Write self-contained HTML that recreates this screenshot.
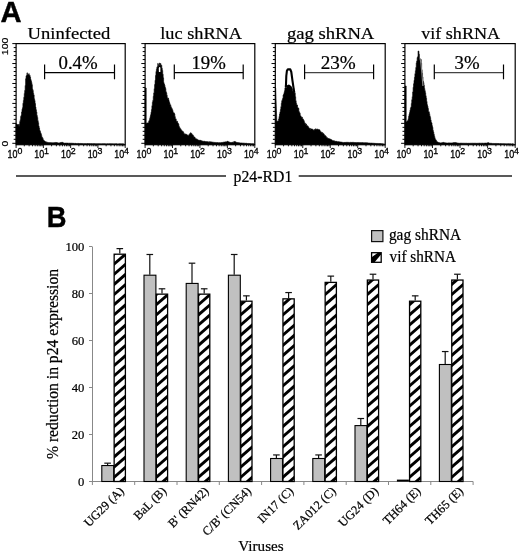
<!DOCTYPE html>
<html><head><meta charset="utf-8"><title>Figure</title>
<style>
html,body{margin:0;padding:0;background:#fff;}
body{width:520px;height:554px;overflow:hidden;font-family:"Liberation Serif",serif;}
svg{display:block;will-change:transform;}
.ser{font-family:"Liberation Serif",serif;stroke:#000;stroke-width:0.22px;}
.san{font-family:"Liberation Sans",sans-serif;}
</style></head><body>
<svg width="520" height="554" viewBox="0 0 520 554">
<defs>
</defs>
<rect width="520" height="554" fill="#fff"/>
<text x="0.60" y="21.5" font-size="29.6" class="san" font-weight="bold" fill="#000" textLength="21.06" lengthAdjust="spacingAndGlyphs" stroke="#000" stroke-width="0.4">A</text>
<rect x="16.1" y="43.6" width="109.1" height="101.1" fill="none" stroke="#000" stroke-width="1.2"/>
<line x1="12.3" y1="143.30" x2="16.1" y2="143.30" stroke="#000" stroke-width="1"/>
<line x1="13.700000000000001" y1="139.31" x2="16.1" y2="139.31" stroke="#000" stroke-width="1"/>
<line x1="13.700000000000001" y1="135.32" x2="16.1" y2="135.32" stroke="#000" stroke-width="1"/>
<line x1="13.700000000000001" y1="131.34" x2="16.1" y2="131.34" stroke="#000" stroke-width="1"/>
<line x1="13.700000000000001" y1="127.35" x2="16.1" y2="127.35" stroke="#000" stroke-width="1"/>
<line x1="12.3" y1="123.36" x2="16.1" y2="123.36" stroke="#000" stroke-width="1"/>
<line x1="13.700000000000001" y1="119.37" x2="16.1" y2="119.37" stroke="#000" stroke-width="1"/>
<line x1="13.700000000000001" y1="115.38" x2="16.1" y2="115.38" stroke="#000" stroke-width="1"/>
<line x1="13.700000000000001" y1="111.40" x2="16.1" y2="111.40" stroke="#000" stroke-width="1"/>
<line x1="13.700000000000001" y1="107.41" x2="16.1" y2="107.41" stroke="#000" stroke-width="1"/>
<line x1="12.3" y1="103.42" x2="16.1" y2="103.42" stroke="#000" stroke-width="1"/>
<line x1="13.700000000000001" y1="99.43" x2="16.1" y2="99.43" stroke="#000" stroke-width="1"/>
<line x1="13.700000000000001" y1="95.44" x2="16.1" y2="95.44" stroke="#000" stroke-width="1"/>
<line x1="13.700000000000001" y1="91.46" x2="16.1" y2="91.46" stroke="#000" stroke-width="1"/>
<line x1="13.700000000000001" y1="87.47" x2="16.1" y2="87.47" stroke="#000" stroke-width="1"/>
<line x1="12.3" y1="83.48" x2="16.1" y2="83.48" stroke="#000" stroke-width="1"/>
<line x1="13.700000000000001" y1="79.49" x2="16.1" y2="79.49" stroke="#000" stroke-width="1"/>
<line x1="13.700000000000001" y1="75.50" x2="16.1" y2="75.50" stroke="#000" stroke-width="1"/>
<line x1="13.700000000000001" y1="71.52" x2="16.1" y2="71.52" stroke="#000" stroke-width="1"/>
<line x1="13.700000000000001" y1="67.53" x2="16.1" y2="67.53" stroke="#000" stroke-width="1"/>
<line x1="12.3" y1="63.54" x2="16.1" y2="63.54" stroke="#000" stroke-width="1"/>
<line x1="13.700000000000001" y1="59.55" x2="16.1" y2="59.55" stroke="#000" stroke-width="1"/>
<line x1="13.700000000000001" y1="55.56" x2="16.1" y2="55.56" stroke="#000" stroke-width="1"/>
<line x1="13.700000000000001" y1="51.58" x2="16.1" y2="51.58" stroke="#000" stroke-width="1"/>
<line x1="13.700000000000001" y1="47.59" x2="16.1" y2="47.59" stroke="#000" stroke-width="1"/>
<line x1="12.3" y1="43.60" x2="16.1" y2="43.60" stroke="#000" stroke-width="1"/>
<line x1="16.10" y1="144.7" x2="16.10" y2="148.0" stroke="#000" stroke-width="0.9"/>
<line x1="24.31" y1="144.7" x2="24.31" y2="146.29999999999998" stroke="#000" stroke-width="0.9"/>
<line x1="29.11" y1="144.7" x2="29.11" y2="146.29999999999998" stroke="#000" stroke-width="0.9"/>
<line x1="32.52" y1="144.7" x2="32.52" y2="146.29999999999998" stroke="#000" stroke-width="0.9"/>
<line x1="35.16" y1="144.7" x2="35.16" y2="146.29999999999998" stroke="#000" stroke-width="0.9"/>
<line x1="37.32" y1="144.7" x2="37.32" y2="146.29999999999998" stroke="#000" stroke-width="0.9"/>
<line x1="39.15" y1="144.7" x2="39.15" y2="146.29999999999998" stroke="#000" stroke-width="0.9"/>
<line x1="40.73" y1="144.7" x2="40.73" y2="146.29999999999998" stroke="#000" stroke-width="0.9"/>
<line x1="42.13" y1="144.7" x2="42.13" y2="146.29999999999998" stroke="#000" stroke-width="0.9"/>
<line x1="43.38" y1="144.7" x2="43.38" y2="148.0" stroke="#000" stroke-width="0.9"/>
<line x1="51.59" y1="144.7" x2="51.59" y2="146.29999999999998" stroke="#000" stroke-width="0.9"/>
<line x1="56.39" y1="144.7" x2="56.39" y2="146.29999999999998" stroke="#000" stroke-width="0.9"/>
<line x1="59.80" y1="144.7" x2="59.80" y2="146.29999999999998" stroke="#000" stroke-width="0.9"/>
<line x1="62.44" y1="144.7" x2="62.44" y2="146.29999999999998" stroke="#000" stroke-width="0.9"/>
<line x1="64.60" y1="144.7" x2="64.60" y2="146.29999999999998" stroke="#000" stroke-width="0.9"/>
<line x1="66.43" y1="144.7" x2="66.43" y2="146.29999999999998" stroke="#000" stroke-width="0.9"/>
<line x1="68.01" y1="144.7" x2="68.01" y2="146.29999999999998" stroke="#000" stroke-width="0.9"/>
<line x1="69.40" y1="144.7" x2="69.40" y2="146.29999999999998" stroke="#000" stroke-width="0.9"/>
<line x1="70.65" y1="144.7" x2="70.65" y2="148.0" stroke="#000" stroke-width="0.9"/>
<line x1="78.86" y1="144.7" x2="78.86" y2="146.29999999999998" stroke="#000" stroke-width="0.9"/>
<line x1="83.66" y1="144.7" x2="83.66" y2="146.29999999999998" stroke="#000" stroke-width="0.9"/>
<line x1="87.07" y1="144.7" x2="87.07" y2="146.29999999999998" stroke="#000" stroke-width="0.9"/>
<line x1="89.71" y1="144.7" x2="89.71" y2="146.29999999999998" stroke="#000" stroke-width="0.9"/>
<line x1="91.87" y1="144.7" x2="91.87" y2="146.29999999999998" stroke="#000" stroke-width="0.9"/>
<line x1="93.70" y1="144.7" x2="93.70" y2="146.29999999999998" stroke="#000" stroke-width="0.9"/>
<line x1="95.28" y1="144.7" x2="95.28" y2="146.29999999999998" stroke="#000" stroke-width="0.9"/>
<line x1="96.68" y1="144.7" x2="96.68" y2="146.29999999999998" stroke="#000" stroke-width="0.9"/>
<line x1="97.92" y1="144.7" x2="97.92" y2="148.0" stroke="#000" stroke-width="0.9"/>
<line x1="106.14" y1="144.7" x2="106.14" y2="146.29999999999998" stroke="#000" stroke-width="0.9"/>
<line x1="110.94" y1="144.7" x2="110.94" y2="146.29999999999998" stroke="#000" stroke-width="0.9"/>
<line x1="114.35" y1="144.7" x2="114.35" y2="146.29999999999998" stroke="#000" stroke-width="0.9"/>
<line x1="116.99" y1="144.7" x2="116.99" y2="146.29999999999998" stroke="#000" stroke-width="0.9"/>
<line x1="119.15" y1="144.7" x2="119.15" y2="146.29999999999998" stroke="#000" stroke-width="0.9"/>
<line x1="120.98" y1="144.7" x2="120.98" y2="146.29999999999998" stroke="#000" stroke-width="0.9"/>
<line x1="122.56" y1="144.7" x2="122.56" y2="146.29999999999998" stroke="#000" stroke-width="0.9"/>
<line x1="123.95" y1="144.7" x2="123.95" y2="146.29999999999998" stroke="#000" stroke-width="0.9"/>
<line x1="125.2" y1="144.7" x2="125.2" y2="148.0" stroke="#000" stroke-width="0.9"/>
<polygon points="16,144.3 16,123.786 17.5,124.47 17.95,124.47 17.95,124.43 18.4,124.43 18.4,124.55 18.85,124.55 18.85,126.23 19.3,126.23 19.3,124.22 19.75,124.22 19.75,121.61 20.2,121.61 20.2,119.67 20.65,119.67 20.65,116.51 21.1,116.51 21.1,115.29 21.55,115.29 21.55,111.96 22.0,111.96 22.0,109.18 22.45,109.18 22.45,107.64 22.9,107.64 22.9,103.3 23.35,103.3 23.35,100.42 23.8,100.42 23.8,97.33 24.25,97.33 24.25,93.38 24.7,93.38 24.7,90.54 25.15,90.54 25.15,85.49 25.6,85.49 25.6,78.75 26.05,78.75 26.05,75.84 26.5,75.84 26.5,75.56 26.95,75.56 26.95,72.86 27.4,72.86 27.4,75.11 27.85,75.11 27.85,74.87 28.3,74.87 28.3,74.57 28.75,74.57 28.75,73.65 29.2,73.65 29.2,75.51 29.65,75.51 29.65,75.36 30.1,75.36 30.1,77.09 30.55,77.09 30.55,79.28 31.0,79.28 31.0,80.83 31.45,80.83 31.45,82.48 31.9,82.48 31.9,84.66 32.35,84.66 32.35,89.0 32.8,89.0 32.8,90.52 33.25,90.52 33.25,93.37 33.7,93.37 33.7,94.98 34.15,94.98 34.15,98.82 34.6,98.82 34.6,100.52 35.05,100.52 35.05,103.59 35.5,103.59 35.5,107.07 35.95,107.07 35.95,109.71 36.4,109.71 36.4,111.94 36.85,111.94 36.85,115.58 37.3,115.58 37.3,117.45 37.75,117.45 37.75,120.68 38.2,120.68 38.2,122.64 38.65,122.64 38.65,126.08 39.1,126.08 39.1,127.89 39.55,127.89 39.55,130.17 40.0,130.17 40.0,131.26 40.45,131.26 40.45,132.78 40.9,132.78 40.9,133.83 41.35,133.83 41.35,135.41 41.8,135.41 41.8,137.21 42.25,137.21 42.25,137.61 42.7,137.61 42.7,138.56 43.15,138.56 43.15,140.1 43.6,140.1 43.6,140.16 44.05,140.16 44.05,141.04 44.5,141.04 44.5,141.01 44.95,141.01 44.95,141.66 45.4,141.66 45.4,141.78 45.85,141.78 45.85,141.87 46.3,141.87 46.3,142.21 46.75,142.21 46.75,142.13 47.2,142.13 47.2,142.38 47.65,142.38 47.65,142.32 48.1,142.32 48.1,142.57 48.55,142.57 48.55,142.65 49.0,142.65 49.0,142.5 49.45,142.5 49.45,142.63 49.9,142.63 49.9,142.68 50.35,142.68 50.35,142.6 50.8,142.6 50.8,142.61 51.25,142.61 51.25,142.67 51.7,142.67 51.7,142.78 52.15,142.78 52.15,142.72 52.6,142.72 52.6,142.77 53.05,142.77 53.05,142.8 53.5,142.8 53.5,142.67 53.95,142.67 53.95,142.7 54.4,142.7 54.4,142.61 54.85,142.61 54.85,142.56 55.3,142.56 55.3,142.41 55.75,142.41 55.75,142.53 56.2,142.53 56.2,142.62 56.65,142.62 56.65,142.53 57.1,142.53 57.1,142.85 57.55,142.85 57.55,142.84 58.0,142.84 58.0,142.95 58.45,142.95 58.45,143.05 58.9,143.05 58.9,142.95 59.35,142.95 59.35,142.9 59.8,142.9 59.8,142.74 60.25,142.74 60.25,142.58 60.7,142.58 60.7,142.59 61.15,142.59 61.15,142.43 61.6,142.43 61.6,142.37 62.05,142.37 62.05,142.2 62.5,142.2 62.5,142.59 62.95,142.59 62.95,142.66 63.4,142.66 63.4,143.03 63.85,143.03 63.85,143.14 64.3,143.14 64.3,143.1 64.75,143.1 64.75,143.25 65.2,143.25 65.2,143.04 65.65,143.04 65.65,143.08 66.1,143.08 66.1,143.04 66.55,143.04 66.55,143.13 67.0,143.13 67.0,143.07 67.45,143.07 67.45,143.12 67.9,143.12 67.9,143.19 68.35,143.19 68.35,143.24 68.8,143.24 68.8,143.14 69.25,143.14 69.25,143.22 69.7,143.22 69.7,143.11 70.15,143.11 70.15,143.24 70.6,143.24 70.6,143.18 71.05,143.18 71.05,143.25 71.5,143.25 71.5,143.14 71.95,143.14 71.95,143.27 72.4,143.27 72.4,143.22 72.85,143.22 72.85,143.37 73.3,143.37 73.3,143.32 73.75,143.32 73.75,143.34 74.2,143.34 74.2,143.43 74.65,143.43 74.65,143.4 75.1,143.4 75.1,143.37 75.55,143.37 75.55,143.35 76.0,143.35 76.0,143.49 76.45,143.49 76.45,143.57 76.9,143.57 76.9,143.55 77.35,143.55 77.35,143.38 77.8,143.38 77.8,143.44 78.25,143.44 78.25,143.37 78.7,143.37 78.7,143.54 79.15,143.54 79.15,143.54 79.6,143.54 79.6,143.57 80.05,143.57 80.05,143.43 80.5,143.43 80.5,143.46 80.95,143.46 80.95,143.52 81.4,143.52 81.4,143.6 81.85,143.6 81.85,143.48 82.3,143.48 82.3,143.63 82.75,143.63 82.75,143.53 83.2,143.53 83.2,143.66 83.65,143.66 83.65,143.68 84.1,143.68 84.1,143.59 84.55,143.59 84.55,143.69 85.0,143.69 85.0,143.57 85.45,143.57 85.45,143.64 85.9,143.64 85.9,143.69 86.35,143.69 86.35,143.7 86.8,143.7 86.8,143.52 87.25,143.52 87.25,143.57 87.7,143.57 87.7,143.61 88.15,143.61 88.15,143.73 88.6,143.73 88.6,143.59 89.05,143.59 89.05,143.56 89.5,143.56 89.5,143.63 89.95,143.63 89.95,143.6 90.4,143.6 90.4,143.72 90.85,143.72 90.85,143.7 91.3,143.7 91.3,143.57 91.75,143.57 91.75,143.77 92.2,143.77 92.2,143.67 92.65,143.67 92.65,143.75 93.1,143.75 93.1,143.61 93.55,143.61 93.55,143.64 94.0,143.64 94.0,143.59 94.45,143.59 94.45,143.67 94.9,143.67 94.9,143.68 95.35,143.68 95.35,143.75 95.8,143.75 95.8,143.7 96.25,143.7 96.25,143.68 96.7,143.68 96.7,143.7 97.15,143.7 97.15,143.66 97.6,143.66 97.6,143.68 98.05,143.68 98.05,143.74 98.5,143.74 98.5,143.65 98.95,143.65 98.95,143.73 99.4,143.73 99.4,143.83 99.85,143.83 99.85,143.72 100.3,143.72 100.3,143.77 100.75,143.77 100.75,143.77 101.2,143.77 101.2,143.81 101.65,143.81 101.65,143.8 102.1,143.8 102.1,143.78 102.55,143.78 102.55,143.65 103.0,143.65 103.0,143.72 103.45,143.72 103.45,143.82 103.9,143.82 103.9,143.65 104.35,143.65 104.35,143.67 104.8,143.67 104.8,143.86 105.25,143.86 105.25,143.78 105.7,143.78 105.7,143.88 106.15,143.88 106.15,143.83 106.6,143.83 106.6,143.89 107.05,143.89 107.05,143.73 107.5,143.73 107.5,143.82 107.95,143.82 107.95,143.74 108.4,143.74 108.4,143.89 108.85,143.89 108.85,143.74 109.3,143.74 109.3,143.71 109.75,143.71 109.75,143.87 110.2,143.87 110.2,143.74 110.65,143.74 110.65,143.8 111.1,143.8 111.1,143.82 111.55,143.82 111.55,143.76 112.0,143.76 112.0,143.77 112.45,143.77 112.45,143.76 112.9,143.76 112.9,143.75 113.35,143.75 113.35,143.88 113.8,143.88 113.8,143.84 114.25,143.84 114.25,143.83 114.7,143.83 114.7,143.9 115.15,143.9 115.15,143.77 115.6,143.77 115.6,143.74 116.05,143.74 116.05,143.72 116.5,143.72 116.5,143.72 116.95,143.72 116.95,143.95 117.4,143.95 117.4,143.95 117.85,143.95 117.85,143.88 118.3,143.88 118.3,143.96 118.75,143.96 118.75,143.85 119.2,143.85 119.2,143.83 119.65,143.83 119.65,143.86 120.1,143.86 120.1,143.75 120.55,143.75 120.55,143.92 121.0,143.92 121.0,143.81 121.45,143.81 121.45,143.91 121.9,143.91 121.9,143.96 122.35,143.96 122.35,143.8 122.8,143.8 122.8,143.87 123.25,143.87 123.25,143.91 123.7,143.91 123.7,143.95 124.15,143.95 124,143.8792 124,144.3" fill="#000" stroke="#000" stroke-width="0.6" stroke-linejoin="round"/>
<line x1="44.6" y1="72.6" x2="114.5" y2="72.6" stroke="#000" stroke-width="1.2"/>
<line x1="44.6" y1="64.5" x2="44.6" y2="79.3" stroke="#000" stroke-width="1.2"/>
<line x1="114.5" y1="64.5" x2="114.5" y2="79.3" stroke="#000" stroke-width="1.2"/>
<text x="58.49" y="69.2" font-size="17.9" class="ser" fill="#000" textLength="39.15" lengthAdjust="spacingAndGlyphs" >0.4%</text>
<text x="27.61" y="39.2" font-size="17.6" class="ser" fill="#000" textLength="82.62" lengthAdjust="spacingAndGlyphs" >Uninfected</text>
<text x="7.62" y="158.2" font-size="10.8" class="san" fill="#000" textLength="9.92" lengthAdjust="spacingAndGlyphs" stroke="#000" stroke-width="0.35">10</text>
<text x="17.40" y="154.0" font-size="8.8" class="san" fill="#000" stroke="#000" stroke-width="0.3">0</text>
<text x="34.30" y="158.2" font-size="10.8" class="san" fill="#000" textLength="9.92" lengthAdjust="spacingAndGlyphs" stroke="#000" stroke-width="0.35">10</text>
<text x="44.07" y="154.0" font-size="8.8" class="san" fill="#000" stroke="#000" stroke-width="0.3">1</text>
<text x="60.97" y="158.2" font-size="10.8" class="san" fill="#000" textLength="9.92" lengthAdjust="spacingAndGlyphs" stroke="#000" stroke-width="0.35">10</text>
<text x="70.75" y="154.0" font-size="8.8" class="san" fill="#000" stroke="#000" stroke-width="0.3">2</text>
<text x="87.65" y="158.2" font-size="10.8" class="san" fill="#000" textLength="9.92" lengthAdjust="spacingAndGlyphs" stroke="#000" stroke-width="0.35">10</text>
<text x="97.42" y="154.0" font-size="8.8" class="san" fill="#000" stroke="#000" stroke-width="0.3">3</text>
<text x="114.32" y="158.2" font-size="10.8" class="san" fill="#000" textLength="9.92" lengthAdjust="spacingAndGlyphs" stroke="#000" stroke-width="0.35">10</text>
<text x="124.10" y="154.0" font-size="8.8" class="san" fill="#000" stroke="#000" stroke-width="0.3">4</text>
<rect x="145.1" y="43.6" width="109.70000000000002" height="101.1" fill="none" stroke="#000" stroke-width="1.2"/>
<line x1="141.29999999999998" y1="143.30" x2="145.1" y2="143.30" stroke="#000" stroke-width="1"/>
<line x1="142.7" y1="139.31" x2="145.1" y2="139.31" stroke="#000" stroke-width="1"/>
<line x1="142.7" y1="135.32" x2="145.1" y2="135.32" stroke="#000" stroke-width="1"/>
<line x1="142.7" y1="131.34" x2="145.1" y2="131.34" stroke="#000" stroke-width="1"/>
<line x1="142.7" y1="127.35" x2="145.1" y2="127.35" stroke="#000" stroke-width="1"/>
<line x1="141.29999999999998" y1="123.36" x2="145.1" y2="123.36" stroke="#000" stroke-width="1"/>
<line x1="142.7" y1="119.37" x2="145.1" y2="119.37" stroke="#000" stroke-width="1"/>
<line x1="142.7" y1="115.38" x2="145.1" y2="115.38" stroke="#000" stroke-width="1"/>
<line x1="142.7" y1="111.40" x2="145.1" y2="111.40" stroke="#000" stroke-width="1"/>
<line x1="142.7" y1="107.41" x2="145.1" y2="107.41" stroke="#000" stroke-width="1"/>
<line x1="141.29999999999998" y1="103.42" x2="145.1" y2="103.42" stroke="#000" stroke-width="1"/>
<line x1="142.7" y1="99.43" x2="145.1" y2="99.43" stroke="#000" stroke-width="1"/>
<line x1="142.7" y1="95.44" x2="145.1" y2="95.44" stroke="#000" stroke-width="1"/>
<line x1="142.7" y1="91.46" x2="145.1" y2="91.46" stroke="#000" stroke-width="1"/>
<line x1="142.7" y1="87.47" x2="145.1" y2="87.47" stroke="#000" stroke-width="1"/>
<line x1="141.29999999999998" y1="83.48" x2="145.1" y2="83.48" stroke="#000" stroke-width="1"/>
<line x1="142.7" y1="79.49" x2="145.1" y2="79.49" stroke="#000" stroke-width="1"/>
<line x1="142.7" y1="75.50" x2="145.1" y2="75.50" stroke="#000" stroke-width="1"/>
<line x1="142.7" y1="71.52" x2="145.1" y2="71.52" stroke="#000" stroke-width="1"/>
<line x1="142.7" y1="67.53" x2="145.1" y2="67.53" stroke="#000" stroke-width="1"/>
<line x1="141.29999999999998" y1="63.54" x2="145.1" y2="63.54" stroke="#000" stroke-width="1"/>
<line x1="142.7" y1="59.55" x2="145.1" y2="59.55" stroke="#000" stroke-width="1"/>
<line x1="142.7" y1="55.56" x2="145.1" y2="55.56" stroke="#000" stroke-width="1"/>
<line x1="142.7" y1="51.58" x2="145.1" y2="51.58" stroke="#000" stroke-width="1"/>
<line x1="142.7" y1="47.59" x2="145.1" y2="47.59" stroke="#000" stroke-width="1"/>
<line x1="141.29999999999998" y1="43.60" x2="145.1" y2="43.60" stroke="#000" stroke-width="1"/>
<line x1="145.10" y1="144.7" x2="145.10" y2="148.0" stroke="#000" stroke-width="0.9"/>
<line x1="153.36" y1="144.7" x2="153.36" y2="146.29999999999998" stroke="#000" stroke-width="0.9"/>
<line x1="158.19" y1="144.7" x2="158.19" y2="146.29999999999998" stroke="#000" stroke-width="0.9"/>
<line x1="161.61" y1="144.7" x2="161.61" y2="146.29999999999998" stroke="#000" stroke-width="0.9"/>
<line x1="164.27" y1="144.7" x2="164.27" y2="146.29999999999998" stroke="#000" stroke-width="0.9"/>
<line x1="166.44" y1="144.7" x2="166.44" y2="146.29999999999998" stroke="#000" stroke-width="0.9"/>
<line x1="168.28" y1="144.7" x2="168.28" y2="146.29999999999998" stroke="#000" stroke-width="0.9"/>
<line x1="169.87" y1="144.7" x2="169.87" y2="146.29999999999998" stroke="#000" stroke-width="0.9"/>
<line x1="171.27" y1="144.7" x2="171.27" y2="146.29999999999998" stroke="#000" stroke-width="0.9"/>
<line x1="172.53" y1="144.7" x2="172.53" y2="148.0" stroke="#000" stroke-width="0.9"/>
<line x1="180.78" y1="144.7" x2="180.78" y2="146.29999999999998" stroke="#000" stroke-width="0.9"/>
<line x1="185.61" y1="144.7" x2="185.61" y2="146.29999999999998" stroke="#000" stroke-width="0.9"/>
<line x1="189.04" y1="144.7" x2="189.04" y2="146.29999999999998" stroke="#000" stroke-width="0.9"/>
<line x1="191.69" y1="144.7" x2="191.69" y2="146.29999999999998" stroke="#000" stroke-width="0.9"/>
<line x1="193.87" y1="144.7" x2="193.87" y2="146.29999999999998" stroke="#000" stroke-width="0.9"/>
<line x1="195.70" y1="144.7" x2="195.70" y2="146.29999999999998" stroke="#000" stroke-width="0.9"/>
<line x1="197.29" y1="144.7" x2="197.29" y2="146.29999999999998" stroke="#000" stroke-width="0.9"/>
<line x1="198.70" y1="144.7" x2="198.70" y2="146.29999999999998" stroke="#000" stroke-width="0.9"/>
<line x1="199.95" y1="144.7" x2="199.95" y2="148.0" stroke="#000" stroke-width="0.9"/>
<line x1="208.21" y1="144.7" x2="208.21" y2="146.29999999999998" stroke="#000" stroke-width="0.9"/>
<line x1="213.04" y1="144.7" x2="213.04" y2="146.29999999999998" stroke="#000" stroke-width="0.9"/>
<line x1="216.46" y1="144.7" x2="216.46" y2="146.29999999999998" stroke="#000" stroke-width="0.9"/>
<line x1="219.12" y1="144.7" x2="219.12" y2="146.29999999999998" stroke="#000" stroke-width="0.9"/>
<line x1="221.29" y1="144.7" x2="221.29" y2="146.29999999999998" stroke="#000" stroke-width="0.9"/>
<line x1="223.13" y1="144.7" x2="223.13" y2="146.29999999999998" stroke="#000" stroke-width="0.9"/>
<line x1="224.72" y1="144.7" x2="224.72" y2="146.29999999999998" stroke="#000" stroke-width="0.9"/>
<line x1="226.12" y1="144.7" x2="226.12" y2="146.29999999999998" stroke="#000" stroke-width="0.9"/>
<line x1="227.38" y1="144.7" x2="227.38" y2="148.0" stroke="#000" stroke-width="0.9"/>
<line x1="235.63" y1="144.7" x2="235.63" y2="146.29999999999998" stroke="#000" stroke-width="0.9"/>
<line x1="240.46" y1="144.7" x2="240.46" y2="146.29999999999998" stroke="#000" stroke-width="0.9"/>
<line x1="243.89" y1="144.7" x2="243.89" y2="146.29999999999998" stroke="#000" stroke-width="0.9"/>
<line x1="246.54" y1="144.7" x2="246.54" y2="146.29999999999998" stroke="#000" stroke-width="0.9"/>
<line x1="248.72" y1="144.7" x2="248.72" y2="146.29999999999998" stroke="#000" stroke-width="0.9"/>
<line x1="250.55" y1="144.7" x2="250.55" y2="146.29999999999998" stroke="#000" stroke-width="0.9"/>
<line x1="252.14" y1="144.7" x2="252.14" y2="146.29999999999998" stroke="#000" stroke-width="0.9"/>
<line x1="253.55" y1="144.7" x2="253.55" y2="146.29999999999998" stroke="#000" stroke-width="0.9"/>
<line x1="254.8" y1="144.7" x2="254.8" y2="148.0" stroke="#000" stroke-width="0.9"/>
<polygon points="145,144.3 145,88 146.2,88 146.2,123.26 148.3,122.83 148.75,122.83 148.75,120.9 149.2,120.9 149.2,120.37 149.65,120.37 149.65,118.58 150.1,118.58 150.1,116.52 150.55,116.52 150.55,114.8 151.0,114.8 151.0,112.16 151.45,112.16 151.45,109.62 151.9,109.62 151.9,105.7 152.35,105.7 152.35,102.16 152.8,102.16 152.8,100.41 153.25,100.41 153.25,96.3 153.7,96.3 153.7,92.91 154.15,92.91 154.15,88.68 154.6,88.68 154.6,84.59 155.05,84.59 155.05,80.3 155.5,80.3 155.5,75.44 155.95,75.44 155.95,71.52 156.4,71.52 156.4,69.13 156.85,69.13 156.85,67.24 157.3,67.24 157.3,66.62 157.75,66.62 157.75,63.43 158.2,63.43 158.2,64.44 158.65,64.44 158.65,66.33 159.1,66.33 159.1,65.35 159.55,65.35 159.55,62.98 160.0,62.98 160.0,65.27 160.45,65.27 160.45,63.59 160.9,63.59 160.9,65.24 161.35,65.24 161.35,65.29 161.8,65.29 161.8,68.35 162.25,68.35 162.25,70.39 162.7,70.39 162.7,74.22 163.15,74.22 163.15,77.83 163.6,77.83 163.6,82.56 164.05,82.56 164.05,83.99 164.5,83.99 164.5,85.14 164.95,85.14 164.95,87.27 165.4,87.27 165.4,88.52 165.85,88.52 165.85,91.76 166.3,91.76 166.3,92.82 166.75,92.82 166.75,95.24 167.2,95.24 167.2,97.66 167.65,97.66 167.65,98.42 168.1,98.42 168.1,98.1 168.55,98.1 168.55,99.74 169.0,99.74 169.0,101.72 169.45,101.72 169.45,102.83 169.9,102.83 169.9,104.98 170.35,104.98 170.35,104.83 170.8,104.83 170.8,106.74 171.25,106.74 171.25,107.68 171.7,107.68 171.7,108.43 172.15,108.43 172.15,109.45 172.6,109.45 172.6,110.49 173.05,110.49 173.05,112.56 173.5,112.56 173.5,113.11 173.95,113.11 173.95,112.92 174.4,112.92 174.4,114.07 174.85,114.07 174.85,116.67 175.3,116.67 175.3,119.04 175.75,119.04 175.75,118.88 176.2,118.88 176.2,120.92 176.65,120.92 176.65,121.4 177.1,121.4 177.1,121.29 177.55,121.29 177.55,122.87 178.0,122.87 178.0,123.38 178.45,123.38 178.45,124.21 178.9,124.21 178.9,126.48 179.35,126.48 179.35,127.17 179.8,127.17 179.8,128.19 180.25,128.19 180.25,128.76 180.7,128.76 180.7,129.24 181.15,129.24 181.15,130.32 181.6,130.32 181.6,130.53 182.05,130.53 182.05,131.04 182.5,131.04 182.5,131.85 182.95,131.85 182.95,131.66 183.4,131.66 183.4,132.44 183.85,132.44 183.85,133.69 184.3,133.69 184.3,133.79 184.75,133.79 184.75,134.49 185.2,134.49 185.2,134.18 185.65,134.18 185.65,133.92 186.1,133.92 186.1,134.59 186.55,134.59 186.55,134.58 187.0,134.58 187.0,134.99 187.45,134.99 187.45,135.13 187.9,135.13 187.9,135.59 188.35,135.59 188.35,135.68 188.8,135.68 188.8,134.69 189.25,134.69 189.25,134.32 189.7,134.32 189.7,133.73 190.15,133.73 190.15,133.12 190.6,133.12 190.6,132.76 191.05,132.76 191.05,133.5 191.5,133.5 191.5,133.53 191.95,133.53 191.95,134.76 192.4,134.76 192.4,134.72 192.85,134.72 192.85,135.3 193.3,135.3 193.3,135.9 193.75,135.9 193.75,137.27 194.2,137.27 194.2,136.99 194.65,136.99 194.65,137.35 195.1,137.35 195.1,138.44 195.55,138.44 195.55,138.74 196.0,138.74 196.0,138.85 196.45,138.85 196.45,139.2 196.9,139.2 196.9,139.06 197.35,139.06 197.35,139.93 197.8,139.93 197.8,140.12 198.25,140.12 198.25,140.14 198.7,140.14 198.7,139.97 199.15,139.97 199.15,140.36 199.6,140.36 199.6,140.47 200.05,140.47 200.05,140.36 200.5,140.36 200.5,140.33 200.95,140.33 200.95,140.7 201.4,140.7 201.4,140.77 201.85,140.77 201.85,141.13 202.3,141.13 202.3,141.01 202.75,141.01 202.75,141.18 203.2,141.18 203.2,141.46 203.65,141.46 203.65,141.2 204.1,141.2 204.1,141.23 204.55,141.23 204.55,141.37 205.0,141.37 205.0,141.51 205.45,141.51 205.45,141.69 205.9,141.69 205.9,141.52 206.35,141.52 206.35,141.71 206.8,141.71 206.8,141.86 207.25,141.86 207.25,141.65 207.7,141.65 207.7,141.71 208.15,141.71 208.15,142.13 208.6,142.13 208.6,141.9 209.05,141.9 209.05,141.7 209.5,141.7 209.5,142.17 209.95,142.17 209.95,141.83 210.4,141.83 210.4,141.95 210.85,141.95 210.85,141.85 211.3,141.85 211.3,142.09 211.75,142.09 211.75,142.26 212.2,142.26 212.2,142.06 212.65,142.06 212.65,142.13 213.1,142.13 213.1,142.15 213.55,142.15 213.55,142.42 214.0,142.42 214.0,142.27 214.45,142.27 214.45,142.63 214.9,142.63 214.9,142.42 215.35,142.42 215.35,142.46 215.8,142.46 215.8,142.43 216.25,142.43 216.25,142.6 216.7,142.6 216.7,142.64 217.15,142.64 217.15,142.51 217.6,142.51 217.6,142.55 218.05,142.55 218.05,142.69 218.5,142.69 218.5,142.66 218.95,142.66 218.95,142.65 219.4,142.65 219.4,142.6 219.85,142.6 219.85,142.65 220.3,142.65 220.3,142.65 220.75,142.65 220.75,142.58 221.2,142.58 221.2,142.56 221.65,142.56 221.65,142.43 222.1,142.43 222.1,142.65 222.55,142.65 222.55,142.36 223.0,142.36 223.0,142.23 223.45,142.23 223.45,142.16 223.9,142.16 223.9,142.1 224.35,142.1 224.35,142.01 224.8,142.01 224.8,142.32 225.25,142.32 225.25,141.82 225.7,141.82 225.7,142.1 226.15,142.1 226.15,141.97 226.6,141.97 226.6,141.77 227.05,141.77 227.05,141.35 227.5,141.35 227.5,141.27 227.95,141.27 227.95,141.76 228.4,141.76 228.4,141.75 228.85,141.75 228.85,141.96 229.3,141.96 229.3,142.21 229.75,142.21 229.75,142.28 230.2,142.28 230.2,142.5 230.65,142.5 230.65,142.56 231.1,142.56 231.1,142.4 231.55,142.4 231.55,142.54 232.0,142.54 232.0,142.28 232.45,142.28 232.45,142.22 232.9,142.22 232.9,142.38 233.35,142.38 233.35,142.16 233.8,142.16 233.8,141.57 234.25,141.57 234.25,141.43 234.7,141.43 234.7,141.71 235.15,141.71 235.15,141.67 235.6,141.67 235.6,142.01 236.05,142.01 236.05,142.38 236.5,142.38 236.5,142.33 236.95,142.33 236.95,142.49 237.4,142.49 237.4,142.51 237.85,142.51 237.85,142.57 238.3,142.57 238.3,142.78 238.75,142.78 238.75,142.7 239.2,142.7 239.2,142.84 239.65,142.84 239.65,142.97 240.1,142.97 240.1,143.01 240.55,143.01 240.55,142.96 241.0,142.96 241.0,142.94 241.45,142.94 241.45,142.95 241.9,142.95 241.9,143.14 242.35,143.14 242.35,143.03 242.8,143.03 242.8,143.15 243.25,143.15 243.25,143.05 243.7,143.05 243.7,143.14 244.15,143.14 244.15,143.14 244.6,143.14 244.6,143.29 245.05,143.29 245.05,143.34 245.5,143.34 245.5,143.31 245.95,143.31 245.95,143.24 246.4,143.24 246.4,143.29 246.85,143.29 246.85,143.48 247.3,143.48 247.3,143.5 247.75,143.5 247.75,143.43 248.2,143.43 248.2,143.53 248.65,143.53 248.65,143.4 249.1,143.4 249.1,143.56 249.55,143.56 249.55,143.55 250.0,143.55 250.0,143.56 250.45,143.56 250.45,143.68 250.9,143.68 250.9,143.7 251.35,143.7 251.35,143.74 251.8,143.74 251.8,143.7 252.25,143.7 252.25,143.67 252.7,143.67 252.7,143.79 253.15,143.79 253.15,143.89 253.6,143.89 253.6,143.76 254.05,143.76 254,143.8792 254,144.3" fill="#000" stroke="#000" stroke-width="0.6" stroke-linejoin="round"/>
<line x1="174.3" y1="72.6" x2="243.2" y2="72.6" stroke="#000" stroke-width="1.2"/>
<line x1="174.3" y1="64.5" x2="174.3" y2="79.3" stroke="#000" stroke-width="1.2"/>
<line x1="243.2" y1="64.5" x2="243.2" y2="79.3" stroke="#000" stroke-width="1.2"/>
<text x="191.47" y="69.2" font-size="17.9" class="ser" fill="#000" textLength="34.26" lengthAdjust="spacingAndGlyphs" >19%</text>
<text x="160.23" y="39.2" font-size="17.6" class="ser" fill="#000" textLength="81.80" lengthAdjust="spacingAndGlyphs" >luc shRNA</text>
<text x="136.62" y="158.2" font-size="10.8" class="san" fill="#000" textLength="9.92" lengthAdjust="spacingAndGlyphs" stroke="#000" stroke-width="0.35">10</text>
<text x="146.40" y="154.0" font-size="8.8" class="san" fill="#000" stroke="#000" stroke-width="0.3">0</text>
<text x="163.45" y="158.2" font-size="10.8" class="san" fill="#000" textLength="9.92" lengthAdjust="spacingAndGlyphs" stroke="#000" stroke-width="0.35">10</text>
<text x="173.22" y="154.0" font-size="8.8" class="san" fill="#000" stroke="#000" stroke-width="0.3">1</text>
<text x="190.27" y="158.2" font-size="10.8" class="san" fill="#000" textLength="9.92" lengthAdjust="spacingAndGlyphs" stroke="#000" stroke-width="0.35">10</text>
<text x="200.05" y="154.0" font-size="8.8" class="san" fill="#000" stroke="#000" stroke-width="0.3">2</text>
<text x="217.10" y="158.2" font-size="10.8" class="san" fill="#000" textLength="9.92" lengthAdjust="spacingAndGlyphs" stroke="#000" stroke-width="0.35">10</text>
<text x="226.88" y="154.0" font-size="8.8" class="san" fill="#000" stroke="#000" stroke-width="0.3">3</text>
<text x="243.92" y="158.2" font-size="10.8" class="san" fill="#000" textLength="9.92" lengthAdjust="spacingAndGlyphs" stroke="#000" stroke-width="0.35">10</text>
<text x="253.70" y="154.0" font-size="8.8" class="san" fill="#000" stroke="#000" stroke-width="0.3">4</text>
<rect x="275.3" y="43.6" width="109.89999999999998" height="101.1" fill="none" stroke="#000" stroke-width="1.2"/>
<line x1="271.5" y1="143.30" x2="275.3" y2="143.30" stroke="#000" stroke-width="1"/>
<line x1="272.90000000000003" y1="139.31" x2="275.3" y2="139.31" stroke="#000" stroke-width="1"/>
<line x1="272.90000000000003" y1="135.32" x2="275.3" y2="135.32" stroke="#000" stroke-width="1"/>
<line x1="272.90000000000003" y1="131.34" x2="275.3" y2="131.34" stroke="#000" stroke-width="1"/>
<line x1="272.90000000000003" y1="127.35" x2="275.3" y2="127.35" stroke="#000" stroke-width="1"/>
<line x1="271.5" y1="123.36" x2="275.3" y2="123.36" stroke="#000" stroke-width="1"/>
<line x1="272.90000000000003" y1="119.37" x2="275.3" y2="119.37" stroke="#000" stroke-width="1"/>
<line x1="272.90000000000003" y1="115.38" x2="275.3" y2="115.38" stroke="#000" stroke-width="1"/>
<line x1="272.90000000000003" y1="111.40" x2="275.3" y2="111.40" stroke="#000" stroke-width="1"/>
<line x1="272.90000000000003" y1="107.41" x2="275.3" y2="107.41" stroke="#000" stroke-width="1"/>
<line x1="271.5" y1="103.42" x2="275.3" y2="103.42" stroke="#000" stroke-width="1"/>
<line x1="272.90000000000003" y1="99.43" x2="275.3" y2="99.43" stroke="#000" stroke-width="1"/>
<line x1="272.90000000000003" y1="95.44" x2="275.3" y2="95.44" stroke="#000" stroke-width="1"/>
<line x1="272.90000000000003" y1="91.46" x2="275.3" y2="91.46" stroke="#000" stroke-width="1"/>
<line x1="272.90000000000003" y1="87.47" x2="275.3" y2="87.47" stroke="#000" stroke-width="1"/>
<line x1="271.5" y1="83.48" x2="275.3" y2="83.48" stroke="#000" stroke-width="1"/>
<line x1="272.90000000000003" y1="79.49" x2="275.3" y2="79.49" stroke="#000" stroke-width="1"/>
<line x1="272.90000000000003" y1="75.50" x2="275.3" y2="75.50" stroke="#000" stroke-width="1"/>
<line x1="272.90000000000003" y1="71.52" x2="275.3" y2="71.52" stroke="#000" stroke-width="1"/>
<line x1="272.90000000000003" y1="67.53" x2="275.3" y2="67.53" stroke="#000" stroke-width="1"/>
<line x1="271.5" y1="63.54" x2="275.3" y2="63.54" stroke="#000" stroke-width="1"/>
<line x1="272.90000000000003" y1="59.55" x2="275.3" y2="59.55" stroke="#000" stroke-width="1"/>
<line x1="272.90000000000003" y1="55.56" x2="275.3" y2="55.56" stroke="#000" stroke-width="1"/>
<line x1="272.90000000000003" y1="51.58" x2="275.3" y2="51.58" stroke="#000" stroke-width="1"/>
<line x1="272.90000000000003" y1="47.59" x2="275.3" y2="47.59" stroke="#000" stroke-width="1"/>
<line x1="271.5" y1="43.60" x2="275.3" y2="43.60" stroke="#000" stroke-width="1"/>
<line x1="275.30" y1="144.7" x2="275.30" y2="148.0" stroke="#000" stroke-width="0.9"/>
<line x1="283.57" y1="144.7" x2="283.57" y2="146.29999999999998" stroke="#000" stroke-width="0.9"/>
<line x1="288.41" y1="144.7" x2="288.41" y2="146.29999999999998" stroke="#000" stroke-width="0.9"/>
<line x1="291.84" y1="144.7" x2="291.84" y2="146.29999999999998" stroke="#000" stroke-width="0.9"/>
<line x1="294.50" y1="144.7" x2="294.50" y2="146.29999999999998" stroke="#000" stroke-width="0.9"/>
<line x1="296.68" y1="144.7" x2="296.68" y2="146.29999999999998" stroke="#000" stroke-width="0.9"/>
<line x1="298.52" y1="144.7" x2="298.52" y2="146.29999999999998" stroke="#000" stroke-width="0.9"/>
<line x1="300.11" y1="144.7" x2="300.11" y2="146.29999999999998" stroke="#000" stroke-width="0.9"/>
<line x1="301.52" y1="144.7" x2="301.52" y2="146.29999999999998" stroke="#000" stroke-width="0.9"/>
<line x1="302.77" y1="144.7" x2="302.77" y2="148.0" stroke="#000" stroke-width="0.9"/>
<line x1="311.05" y1="144.7" x2="311.05" y2="146.29999999999998" stroke="#000" stroke-width="0.9"/>
<line x1="315.88" y1="144.7" x2="315.88" y2="146.29999999999998" stroke="#000" stroke-width="0.9"/>
<line x1="319.32" y1="144.7" x2="319.32" y2="146.29999999999998" stroke="#000" stroke-width="0.9"/>
<line x1="321.98" y1="144.7" x2="321.98" y2="146.29999999999998" stroke="#000" stroke-width="0.9"/>
<line x1="324.15" y1="144.7" x2="324.15" y2="146.29999999999998" stroke="#000" stroke-width="0.9"/>
<line x1="325.99" y1="144.7" x2="325.99" y2="146.29999999999998" stroke="#000" stroke-width="0.9"/>
<line x1="327.59" y1="144.7" x2="327.59" y2="146.29999999999998" stroke="#000" stroke-width="0.9"/>
<line x1="328.99" y1="144.7" x2="328.99" y2="146.29999999999998" stroke="#000" stroke-width="0.9"/>
<line x1="330.25" y1="144.7" x2="330.25" y2="148.0" stroke="#000" stroke-width="0.9"/>
<line x1="338.52" y1="144.7" x2="338.52" y2="146.29999999999998" stroke="#000" stroke-width="0.9"/>
<line x1="343.36" y1="144.7" x2="343.36" y2="146.29999999999998" stroke="#000" stroke-width="0.9"/>
<line x1="346.79" y1="144.7" x2="346.79" y2="146.29999999999998" stroke="#000" stroke-width="0.9"/>
<line x1="349.45" y1="144.7" x2="349.45" y2="146.29999999999998" stroke="#000" stroke-width="0.9"/>
<line x1="351.63" y1="144.7" x2="351.63" y2="146.29999999999998" stroke="#000" stroke-width="0.9"/>
<line x1="353.47" y1="144.7" x2="353.47" y2="146.29999999999998" stroke="#000" stroke-width="0.9"/>
<line x1="355.06" y1="144.7" x2="355.06" y2="146.29999999999998" stroke="#000" stroke-width="0.9"/>
<line x1="356.47" y1="144.7" x2="356.47" y2="146.29999999999998" stroke="#000" stroke-width="0.9"/>
<line x1="357.73" y1="144.7" x2="357.73" y2="148.0" stroke="#000" stroke-width="0.9"/>
<line x1="366.00" y1="144.7" x2="366.00" y2="146.29999999999998" stroke="#000" stroke-width="0.9"/>
<line x1="370.83" y1="144.7" x2="370.83" y2="146.29999999999998" stroke="#000" stroke-width="0.9"/>
<line x1="374.27" y1="144.7" x2="374.27" y2="146.29999999999998" stroke="#000" stroke-width="0.9"/>
<line x1="376.93" y1="144.7" x2="376.93" y2="146.29999999999998" stroke="#000" stroke-width="0.9"/>
<line x1="379.10" y1="144.7" x2="379.10" y2="146.29999999999998" stroke="#000" stroke-width="0.9"/>
<line x1="380.94" y1="144.7" x2="380.94" y2="146.29999999999998" stroke="#000" stroke-width="0.9"/>
<line x1="382.54" y1="144.7" x2="382.54" y2="146.29999999999998" stroke="#000" stroke-width="0.9"/>
<line x1="383.94" y1="144.7" x2="383.94" y2="146.29999999999998" stroke="#000" stroke-width="0.9"/>
<line x1="385.2" y1="144.7" x2="385.2" y2="148.0" stroke="#000" stroke-width="0.9"/>
<polygon points="275.6,144.3 275.6,88 276.8,121.21 277.25,121.21 277.25,121.24 277.7,121.24 277.7,121.02 278.15,121.02 278.15,121.0 278.6,121.0 278.6,118.93 279.05,118.93 279.05,116.43 279.5,116.43 279.5,113.91 279.95,113.91 279.95,111.94 280.4,111.94 280.4,109.48 280.85,109.48 280.85,106.68 281.3,106.68 281.3,103.16 281.75,103.16 281.75,100.8 282.2,100.8 282.2,99.61 282.65,99.61 282.65,98.35 283.1,98.35 283.1,95.03 283.55,95.03 283.55,94.24 284.0,94.24 284.0,92.48 284.45,92.48 284.45,90.72 284.9,90.72 284.9,88.02 285.35,88.02 285.35,85.26 285.8,85.26 285.8,84.89 286.25,84.89 286.25,85.18 286.7,85.18 286.7,84.7 287.15,84.7 287.15,85.61 287.6,85.61 287.6,85.58 288.05,85.58 288.05,84.83 288.5,84.83 288.5,85.24 288.95,85.24 288.95,83.98 289.4,83.98 289.4,85.17 289.85,85.17 289.85,84.76 290.3,84.76 290.3,84.9 290.75,84.9 290.75,86.53 291.2,86.53 291.2,86.65 291.65,86.65 291.65,87.73 292.1,87.73 292.1,87.14 292.55,87.14 292.55,88.61 293.0,88.61 293.0,86.86 293.45,86.86 293.45,88.33 293.9,88.33 293.9,90.29 294.35,90.29 294.35,91.55 294.8,91.55 294.8,93.14 295.25,93.14 295.25,96.69 295.7,96.69 295.7,100.76 296.15,100.76 296.15,103.26 296.6,103.26 296.6,105.03 297.05,105.03 297.05,104.99 297.5,104.99 297.5,107.39 297.95,107.39 297.95,108.04 298.4,108.04 298.4,108.35 298.85,108.35 298.85,111.61 299.3,111.61 299.3,112.52 299.75,112.52 299.75,113.31 300.2,113.31 300.2,115.71 300.65,115.71 300.65,115.92 301.1,115.92 301.1,117.05 301.55,117.05 301.55,117.56 302.0,117.56 302.0,117.26 302.45,117.26 302.45,118.97 302.9,118.97 302.9,118.97 303.35,118.97 303.35,119.98 303.8,119.98 303.8,120.87 304.25,120.87 304.25,122.24 304.7,122.24 304.7,123.31 305.15,123.31 305.15,123.36 305.6,123.36 305.6,124.41 306.05,124.41 306.05,124.04 306.5,124.04 306.5,125.44 306.95,125.44 306.95,125.84 307.4,125.84 307.4,125.85 307.85,125.85 307.85,126.57 308.3,126.57 308.3,127.12 308.75,127.12 308.75,128.09 309.2,128.09 309.2,128.24 309.65,128.24 309.65,128.51 310.1,128.51 310.1,128.44 310.55,128.44 310.55,129.39 311.0,129.39 311.0,128.94 311.45,128.94 311.45,128.97 311.9,128.97 311.9,129.05 312.35,129.05 312.35,129.23 312.8,129.23 312.8,130.04 313.25,130.04 313.25,129.95 313.7,129.95 313.7,130.48 314.15,130.48 314.15,129.4 314.6,129.4 314.6,129.71 315.05,129.71 315.05,129.87 315.5,129.87 315.5,128.79 315.95,128.79 315.95,129.51 316.4,129.51 316.4,129.86 316.85,129.86 316.85,128.88 317.3,128.88 317.3,129.97 317.75,129.97 317.75,129.23 318.2,129.23 318.2,129.74 318.65,129.74 318.65,129.85 319.1,129.85 319.1,129.66 319.55,129.66 319.55,129.94 320.0,129.94 320.0,131.24 320.45,131.24 320.45,131.64 320.9,131.64 320.9,131.94 321.35,131.94 321.35,132.39 321.8,132.39 321.8,132.48 322.25,132.48 322.25,132.56 322.7,132.56 322.7,133.57 323.15,133.57 323.15,133.42 323.6,133.42 323.6,133.93 324.05,133.93 324.05,134.66 324.5,134.66 324.5,135.45 324.95,135.45 324.95,135.51 325.4,135.51 325.4,135.88 325.85,135.88 325.85,136.54 326.3,136.54 326.3,137.31 326.75,137.31 326.75,137.65 327.2,137.65 327.2,137.76 327.65,137.76 327.65,138.6 328.1,138.6 328.1,138.5 328.55,138.5 328.55,138.54 329.0,138.54 329.0,138.74 329.45,138.74 329.45,138.97 329.9,138.97 329.9,139.01 330.35,139.01 330.35,139.24 330.8,139.24 330.8,139.79 331.25,139.79 331.25,139.65 331.7,139.65 331.7,140.09 332.15,140.09 332.15,140.66 332.6,140.66 332.6,140.6 333.05,140.6 333.05,140.63 333.5,140.63 333.5,141.08 333.95,141.08 333.95,140.78 334.4,140.78 334.4,141.35 334.85,141.35 334.85,141.21 335.3,141.21 335.3,141.54 335.75,141.54 335.75,141.15 336.2,141.15 336.2,141.43 336.65,141.43 336.65,141.37 337.1,141.37 337.1,141.92 337.55,141.92 337.55,141.73 338.0,141.73 338.0,141.87 338.45,141.87 338.45,141.63 338.9,141.63 338.9,141.69 339.35,141.69 339.35,142.06 339.8,142.06 339.8,142.0 340.25,142.0 340.25,141.96 340.7,141.96 340.7,142.06 341.15,142.06 341.15,142.37 341.6,142.37 341.6,141.99 342.05,141.99 342.05,142.38 342.5,142.38 342.5,142.36 342.95,142.36 342.95,142.4 343.4,142.4 343.4,142.53 343.85,142.53 343.85,142.5 344.3,142.5 344.3,142.34 344.75,142.34 344.75,142.6 345.2,142.6 345.2,142.32 345.65,142.32 345.65,142.49 346.1,142.49 346.1,142.54 346.55,142.54 346.55,142.14 347.0,142.14 347.0,142.48 347.45,142.48 347.45,142.22 347.9,142.22 347.9,142.18 348.35,142.18 348.35,142.55 348.8,142.55 348.8,142.47 349.25,142.47 349.25,142.44 349.7,142.44 349.7,142.41 350.15,142.41 350.15,142.24 350.6,142.24 350.6,142.45 351.05,142.45 351.05,142.32 351.5,142.32 351.5,142.6 351.95,142.6 351.95,142.61 352.4,142.61 352.4,142.21 352.85,142.21 352.85,142.38 353.3,142.38 353.3,142.29 353.75,142.29 353.75,142.41 354.2,142.41 354.2,142.56 354.65,142.56 354.65,142.47 355.1,142.47 355.1,142.58 355.55,142.58 355.55,142.55 356.0,142.55 356.0,142.63 356.45,142.63 356.45,142.44 356.9,142.44 356.9,142.53 357.35,142.53 357.35,142.58 357.8,142.58 357.8,142.44 358.25,142.44 358.25,142.47 358.7,142.47 358.7,142.47 359.15,142.47 359.15,142.47 359.6,142.47 359.6,142.67 360.05,142.67 360.05,142.57 360.5,142.57 360.5,142.64 360.95,142.64 360.95,142.56 361.4,142.56 361.4,142.64 361.85,142.64 361.85,142.77 362.3,142.77 362.3,142.58 362.75,142.58 362.75,142.62 363.2,142.62 363.2,142.79 363.65,142.79 363.65,142.76 364.1,142.76 364.1,142.71 364.55,142.71 364.55,142.8 365.0,142.8 365.0,142.66 365.45,142.66 365.45,142.63 365.9,142.63 365.9,142.71 366.35,142.71 366.35,142.73 366.8,142.73 366.8,142.8 367.25,142.8 367.25,142.83 367.7,142.83 367.7,142.91 368.15,142.91 368.15,143.02 368.6,143.02 368.6,143.06 369.05,143.06 369.05,143.0 369.5,143.0 369.5,143.05 369.95,143.05 369.95,143.1 370.4,143.1 370.4,143.13 370.85,143.13 370.85,143.15 371.3,143.15 371.3,143.12 371.75,143.12 371.75,143.08 372.2,143.08 372.2,143.2 372.65,143.2 372.65,143.28 373.1,143.28 373.1,143.19 373.55,143.19 373.55,143.27 374.0,143.27 374.0,143.28 374.45,143.28 374.45,143.37 374.9,143.37 374.9,143.33 375.35,143.33 375.35,143.46 375.8,143.46 375.8,143.37 376.25,143.37 376.25,143.51 376.7,143.51 376.7,143.46 377.15,143.46 377.15,143.42 377.6,143.42 377.6,143.61 378.05,143.61 378.05,143.44 378.5,143.44 378.5,143.66 378.95,143.66 378.95,143.58 379.4,143.58 379.4,143.49 379.85,143.49 379.85,143.56 380.3,143.56 380.3,143.62 380.75,143.62 380.75,143.59 381.2,143.59 381.2,143.65 381.65,143.65 381.65,143.66 382.1,143.66 382.1,143.77 382.55,143.77 382.55,143.87 383.0,143.87 383.0,143.88 383.45,143.88 383.45,143.91 383.9,143.91 383.9,143.93 384.35,143.93 384,143.8792 384,144.3" fill="#000" stroke="#000" stroke-width="0.6" stroke-linejoin="round"/>
<line x1="304.6" y1="72.6" x2="373.6" y2="72.6" stroke="#444" stroke-width="1.2"/>
<line x1="304.6" y1="64.5" x2="304.6" y2="79.3" stroke="#000" stroke-width="1.2"/>
<line x1="373.6" y1="64.5" x2="373.6" y2="79.3" stroke="#000" stroke-width="1.2"/>
<text x="320.68" y="69.2" font-size="17.9" class="ser" fill="#000" textLength="35.07" lengthAdjust="spacingAndGlyphs" >23%</text>
<text x="286.92" y="39.2" font-size="17.6" class="ser" fill="#000" textLength="87.42" lengthAdjust="spacingAndGlyphs" >gag shRNA</text>
<text x="266.82" y="158.2" font-size="10.8" class="san" fill="#000" textLength="9.92" lengthAdjust="spacingAndGlyphs" stroke="#000" stroke-width="0.35">10</text>
<text x="276.60" y="154.0" font-size="8.8" class="san" fill="#000" stroke="#000" stroke-width="0.3">0</text>
<text x="293.70" y="158.2" font-size="10.8" class="san" fill="#000" textLength="9.92" lengthAdjust="spacingAndGlyphs" stroke="#000" stroke-width="0.35">10</text>
<text x="303.47" y="154.0" font-size="8.8" class="san" fill="#000" stroke="#000" stroke-width="0.3">1</text>
<text x="320.57" y="158.2" font-size="10.8" class="san" fill="#000" textLength="9.92" lengthAdjust="spacingAndGlyphs" stroke="#000" stroke-width="0.35">10</text>
<text x="330.35" y="154.0" font-size="8.8" class="san" fill="#000" stroke="#000" stroke-width="0.3">2</text>
<text x="347.45" y="158.2" font-size="10.8" class="san" fill="#000" textLength="9.92" lengthAdjust="spacingAndGlyphs" stroke="#000" stroke-width="0.35">10</text>
<text x="357.22" y="154.0" font-size="8.8" class="san" fill="#000" stroke="#000" stroke-width="0.3">3</text>
<text x="374.32" y="158.2" font-size="10.8" class="san" fill="#000" textLength="9.92" lengthAdjust="spacingAndGlyphs" stroke="#000" stroke-width="0.35">10</text>
<text x="384.10" y="154.0" font-size="8.8" class="san" fill="#000" stroke="#000" stroke-width="0.3">4</text>
<rect x="404.9" y="43.6" width="110.30000000000007" height="101.1" fill="none" stroke="#000" stroke-width="1.2"/>
<line x1="401.09999999999997" y1="143.30" x2="404.9" y2="143.30" stroke="#000" stroke-width="1"/>
<line x1="402.5" y1="139.31" x2="404.9" y2="139.31" stroke="#000" stroke-width="1"/>
<line x1="402.5" y1="135.32" x2="404.9" y2="135.32" stroke="#000" stroke-width="1"/>
<line x1="402.5" y1="131.34" x2="404.9" y2="131.34" stroke="#000" stroke-width="1"/>
<line x1="402.5" y1="127.35" x2="404.9" y2="127.35" stroke="#000" stroke-width="1"/>
<line x1="401.09999999999997" y1="123.36" x2="404.9" y2="123.36" stroke="#000" stroke-width="1"/>
<line x1="402.5" y1="119.37" x2="404.9" y2="119.37" stroke="#000" stroke-width="1"/>
<line x1="402.5" y1="115.38" x2="404.9" y2="115.38" stroke="#000" stroke-width="1"/>
<line x1="402.5" y1="111.40" x2="404.9" y2="111.40" stroke="#000" stroke-width="1"/>
<line x1="402.5" y1="107.41" x2="404.9" y2="107.41" stroke="#000" stroke-width="1"/>
<line x1="401.09999999999997" y1="103.42" x2="404.9" y2="103.42" stroke="#000" stroke-width="1"/>
<line x1="402.5" y1="99.43" x2="404.9" y2="99.43" stroke="#000" stroke-width="1"/>
<line x1="402.5" y1="95.44" x2="404.9" y2="95.44" stroke="#000" stroke-width="1"/>
<line x1="402.5" y1="91.46" x2="404.9" y2="91.46" stroke="#000" stroke-width="1"/>
<line x1="402.5" y1="87.47" x2="404.9" y2="87.47" stroke="#000" stroke-width="1"/>
<line x1="401.09999999999997" y1="83.48" x2="404.9" y2="83.48" stroke="#000" stroke-width="1"/>
<line x1="402.5" y1="79.49" x2="404.9" y2="79.49" stroke="#000" stroke-width="1"/>
<line x1="402.5" y1="75.50" x2="404.9" y2="75.50" stroke="#000" stroke-width="1"/>
<line x1="402.5" y1="71.52" x2="404.9" y2="71.52" stroke="#000" stroke-width="1"/>
<line x1="402.5" y1="67.53" x2="404.9" y2="67.53" stroke="#000" stroke-width="1"/>
<line x1="401.09999999999997" y1="63.54" x2="404.9" y2="63.54" stroke="#000" stroke-width="1"/>
<line x1="402.5" y1="59.55" x2="404.9" y2="59.55" stroke="#000" stroke-width="1"/>
<line x1="402.5" y1="55.56" x2="404.9" y2="55.56" stroke="#000" stroke-width="1"/>
<line x1="402.5" y1="51.58" x2="404.9" y2="51.58" stroke="#000" stroke-width="1"/>
<line x1="402.5" y1="47.59" x2="404.9" y2="47.59" stroke="#000" stroke-width="1"/>
<line x1="401.09999999999997" y1="43.60" x2="404.9" y2="43.60" stroke="#000" stroke-width="1"/>
<line x1="404.90" y1="144.7" x2="404.90" y2="148.0" stroke="#000" stroke-width="0.9"/>
<line x1="413.20" y1="144.7" x2="413.20" y2="146.29999999999998" stroke="#000" stroke-width="0.9"/>
<line x1="418.06" y1="144.7" x2="418.06" y2="146.29999999999998" stroke="#000" stroke-width="0.9"/>
<line x1="421.50" y1="144.7" x2="421.50" y2="146.29999999999998" stroke="#000" stroke-width="0.9"/>
<line x1="424.17" y1="144.7" x2="424.17" y2="146.29999999999998" stroke="#000" stroke-width="0.9"/>
<line x1="426.36" y1="144.7" x2="426.36" y2="146.29999999999998" stroke="#000" stroke-width="0.9"/>
<line x1="428.20" y1="144.7" x2="428.20" y2="146.29999999999998" stroke="#000" stroke-width="0.9"/>
<line x1="429.80" y1="144.7" x2="429.80" y2="146.29999999999998" stroke="#000" stroke-width="0.9"/>
<line x1="431.21" y1="144.7" x2="431.21" y2="146.29999999999998" stroke="#000" stroke-width="0.9"/>
<line x1="432.48" y1="144.7" x2="432.48" y2="148.0" stroke="#000" stroke-width="0.9"/>
<line x1="440.78" y1="144.7" x2="440.78" y2="146.29999999999998" stroke="#000" stroke-width="0.9"/>
<line x1="445.63" y1="144.7" x2="445.63" y2="146.29999999999998" stroke="#000" stroke-width="0.9"/>
<line x1="449.08" y1="144.7" x2="449.08" y2="146.29999999999998" stroke="#000" stroke-width="0.9"/>
<line x1="451.75" y1="144.7" x2="451.75" y2="146.29999999999998" stroke="#000" stroke-width="0.9"/>
<line x1="453.93" y1="144.7" x2="453.93" y2="146.29999999999998" stroke="#000" stroke-width="0.9"/>
<line x1="455.78" y1="144.7" x2="455.78" y2="146.29999999999998" stroke="#000" stroke-width="0.9"/>
<line x1="457.38" y1="144.7" x2="457.38" y2="146.29999999999998" stroke="#000" stroke-width="0.9"/>
<line x1="458.79" y1="144.7" x2="458.79" y2="146.29999999999998" stroke="#000" stroke-width="0.9"/>
<line x1="460.05" y1="144.7" x2="460.05" y2="148.0" stroke="#000" stroke-width="0.9"/>
<line x1="468.35" y1="144.7" x2="468.35" y2="146.29999999999998" stroke="#000" stroke-width="0.9"/>
<line x1="473.21" y1="144.7" x2="473.21" y2="146.29999999999998" stroke="#000" stroke-width="0.9"/>
<line x1="476.65" y1="144.7" x2="476.65" y2="146.29999999999998" stroke="#000" stroke-width="0.9"/>
<line x1="479.32" y1="144.7" x2="479.32" y2="146.29999999999998" stroke="#000" stroke-width="0.9"/>
<line x1="481.51" y1="144.7" x2="481.51" y2="146.29999999999998" stroke="#000" stroke-width="0.9"/>
<line x1="483.35" y1="144.7" x2="483.35" y2="146.29999999999998" stroke="#000" stroke-width="0.9"/>
<line x1="484.95" y1="144.7" x2="484.95" y2="146.29999999999998" stroke="#000" stroke-width="0.9"/>
<line x1="486.36" y1="144.7" x2="486.36" y2="146.29999999999998" stroke="#000" stroke-width="0.9"/>
<line x1="487.62" y1="144.7" x2="487.62" y2="148.0" stroke="#000" stroke-width="0.9"/>
<line x1="495.93" y1="144.7" x2="495.93" y2="146.29999999999998" stroke="#000" stroke-width="0.9"/>
<line x1="500.78" y1="144.7" x2="500.78" y2="146.29999999999998" stroke="#000" stroke-width="0.9"/>
<line x1="504.23" y1="144.7" x2="504.23" y2="146.29999999999998" stroke="#000" stroke-width="0.9"/>
<line x1="506.90" y1="144.7" x2="506.90" y2="146.29999999999998" stroke="#000" stroke-width="0.9"/>
<line x1="509.08" y1="144.7" x2="509.08" y2="146.29999999999998" stroke="#000" stroke-width="0.9"/>
<line x1="510.93" y1="144.7" x2="510.93" y2="146.29999999999998" stroke="#000" stroke-width="0.9"/>
<line x1="512.53" y1="144.7" x2="512.53" y2="146.29999999999998" stroke="#000" stroke-width="0.9"/>
<line x1="513.94" y1="144.7" x2="513.94" y2="146.29999999999998" stroke="#000" stroke-width="0.9"/>
<line x1="515.2" y1="144.7" x2="515.2" y2="148.0" stroke="#000" stroke-width="0.9"/>
<polygon points="405,144.3 405,86 406.2,86 406.2,122.208 407.7,120.4 408.15,120.4 408.15,118.69 408.6,118.69 408.6,116.34 409.05,116.34 409.05,114.22 409.5,114.22 409.5,112.6 409.95,112.6 409.95,110.23 410.4,110.23 410.4,108.17 410.85,108.17 410.85,106.93 411.3,106.93 411.3,103.41 411.75,103.41 411.75,99.8 412.2,99.8 412.2,96.63 412.65,96.63 412.65,91.92 413.1,91.92 413.1,87.29 413.55,87.29 413.55,83.74 414.0,83.74 414.0,80.37 414.45,80.37 414.45,77.34 414.9,77.34 414.9,73.63 415.35,73.63 415.35,70.66 415.8,70.66 415.8,67.53 416.25,67.53 416.25,62.8 416.7,62.8 416.7,61.03 417.15,61.03 417.15,57.55 417.6,57.55 417.6,56.75 418.05,56.75 418.05,51.02 418.5,51.02 418.5,51.23 418.95,51.23 418.95,54.21 419.4,54.21 419.4,58.01 419.85,58.01 419.85,59.77 420.3,59.77 420.3,60.33 420.75,60.33 420.75,59.44 421.2,59.44 421.2,63.28 421.65,63.28 421.65,69.75 422.1,69.75 422.1,73.29 422.55,73.29 422.55,76.93 423.0,76.93 423.0,81.16 423.45,81.16 423.45,82.58 423.9,82.58 423.9,85.18 424.35,85.18 424.35,88.47 424.8,88.47 424.8,90.73 425.25,90.73 425.25,92.77 425.7,92.77 425.7,95.83 426.15,95.83 426.15,98.13 426.6,98.13 426.6,101.45 427.05,101.45 427.05,104.65 427.5,104.65 427.5,106.16 427.95,106.16 427.95,108.44 428.4,108.44 428.4,111.68 428.85,111.68 428.85,111.85 429.3,111.85 429.3,113.76 429.75,113.76 429.75,115.88 430.2,115.88 430.2,117.55 430.65,117.55 430.65,119.98 431.1,119.98 431.1,122.21 431.55,122.21 431.55,122.92 432.0,122.92 432.0,125.63 432.45,125.63 432.45,127.34 432.9,127.34 432.9,130.46 433.35,130.46 433.35,132.12 433.8,132.12 433.8,134.37 434.25,134.37 434.25,136.14 434.7,136.14 434.7,137.82 435.15,137.82 435.15,139.48 435.6,139.48 435.6,139.66 436.05,139.66 436.05,140.52 436.5,140.52 436.5,141.52 436.95,141.52 436.95,141.8 437.4,141.8 437.4,142.01 437.85,142.01 437.85,142.31 438.3,142.31 438.3,142.57 438.75,142.57 438.75,142.58 439.2,142.58 439.2,142.68 439.65,142.68 439.65,142.66 440.1,142.66 440.1,142.9 440.55,142.9 440.55,142.9 441.0,142.9 441.0,142.89 441.45,142.89 441.45,142.78 441.9,142.78 441.9,142.63 442.35,142.63 442.35,142.6 442.8,142.6 442.8,142.41 443.25,142.41 443.25,142.3 443.7,142.3 443.7,142.46 444.15,142.46 444.15,142.74 444.6,142.74 444.6,142.74 445.05,142.74 445.05,142.93 445.5,142.93 445.5,142.85 445.95,142.85 445.95,142.92 446.4,142.92 446.4,142.98 446.85,142.98 446.85,143.0 447.3,143.0 447.3,143.1 447.75,143.1 447.75,143.04 448.2,143.04 448.2,142.88 448.65,142.88 448.65,143.06 449.1,143.06 449.1,142.88 449.55,142.88 449.55,142.94 450.0,142.94 450.0,142.93 450.45,142.93 450.45,143.06 450.9,143.06 450.9,142.94 451.35,142.94 451.35,142.94 451.8,142.94 451.8,143.04 452.25,143.04 452.25,142.96 452.7,142.96 452.7,142.8 453.15,142.8 453.15,142.75 453.6,142.75 453.6,142.59 454.05,142.59 454.05,142.69 454.5,142.69 454.5,142.57 454.95,142.57 454.95,142.44 455.4,142.44 455.4,142.7 455.85,142.7 455.85,142.59 456.3,142.59 456.3,142.89 456.75,142.89 456.75,142.88 457.2,142.88 457.2,143.03 457.65,143.03 457.65,143.13 458.1,143.13 458.1,143.25 458.55,143.25 458.55,143.07 459.0,143.07 459.0,143.27 459.45,143.27 459.45,143.27 459.9,143.27 459.9,143.07 460.35,143.07 460.35,143.17 460.8,143.17 460.8,143.21 461.25,143.21 461.25,143.16 461.7,143.16 461.7,143.07 462.15,143.07 462.15,143.28 462.6,143.28 462.6,143.19 463.05,143.19 463.05,143.19 463.5,143.19 463.5,143.2 463.95,143.2 463.95,143.3 464.4,143.3 464.4,143.19 464.85,143.19 464.85,143.21 465.3,143.21 465.3,143.28 465.75,143.28 465.75,143.24 466.2,143.24 466.2,143.18 466.65,143.18 466.65,143.28 467.1,143.28 467.1,143.34 467.55,143.34 467.55,143.34 468.0,143.34 468.0,143.22 468.45,143.22 468.45,143.34 468.9,143.34 468.9,143.34 469.35,143.34 469.35,143.25 469.8,143.25 469.8,143.35 470.25,143.35 470.25,143.19 470.7,143.19 470.7,143.17 471.15,143.17 471.15,143.29 471.6,143.29 471.6,143.18 472.05,143.18 472.05,143.18 472.5,143.18 472.5,143.19 472.95,143.19 472.95,143.3 473.4,143.3 473.4,143.15 473.85,143.15 473.85,143.28 474.3,143.28 474.3,143.13 474.75,143.13 474.75,143.28 475.2,143.28 475.2,143.19 475.65,143.19 475.65,143.24 476.1,143.24 476.1,143.32 476.55,143.32 476.55,143.32 477.0,143.32 477.0,143.27 477.45,143.27 477.45,143.25 477.9,143.25 477.9,143.23 478.35,143.23 478.35,143.2 478.8,143.2 478.8,143.28 479.25,143.28 479.25,143.08 479.7,143.08 479.7,143.14 480.15,143.14 480.15,143.18 480.6,143.18 480.6,143.27 481.05,143.27 481.05,143.18 481.5,143.18 481.5,143.18 481.95,143.18 481.95,143.07 482.4,143.07 482.4,143.19 482.85,143.19 482.85,143.2 483.3,143.2 483.3,143.22 483.75,143.22 483.75,143.25 484.2,143.25 484.2,143.09 484.65,143.09 484.65,143.22 485.1,143.22 485.1,143.09 485.55,143.09 485.55,143.07 486.0,143.07 486.0,143.08 486.45,143.08 486.45,143.16 486.9,143.16 486.9,143.03 487.35,143.03 487.35,142.93 487.8,142.93 487.8,142.55 488.25,142.55 488.25,142.77 488.7,142.77 488.7,143.04 489.15,143.04 489.15,143.34 489.6,143.34 489.6,143.15 490.05,143.15 490.05,143.26 490.5,143.26 490.5,143.28 490.95,143.28 490.95,143.32 491.4,143.32 491.4,143.29 491.85,143.29 491.85,143.4 492.3,143.4 492.3,143.46 492.75,143.46 492.75,143.48 493.2,143.48 493.2,143.48 493.65,143.48 493.65,143.41 494.1,143.41 494.1,143.52 494.55,143.52 494.55,143.46 495.0,143.46 495.0,143.42 495.45,143.42 495.45,143.57 495.9,143.57 495.9,143.49 496.35,143.49 496.35,143.44 496.8,143.44 496.8,143.43 497.25,143.43 497.25,143.51 497.7,143.51 497.7,143.49 498.15,143.49 498.15,143.61 498.6,143.61 498.6,143.54 499.05,143.54 499.05,143.74 499.5,143.74 499.5,143.63 499.95,143.63 499.95,143.68 500.4,143.68 500.4,143.56 500.85,143.56 500.85,143.61 501.3,143.61 501.3,143.78 501.75,143.78 501.75,143.72 502.2,143.72 502.2,143.78 502.65,143.78 502.65,143.64 503.1,143.64 503.1,143.69 503.55,143.69 503.55,143.66 504.0,143.66 504.0,143.84 504.45,143.84 504.45,143.76 504.9,143.76 504.9,143.86 505.35,143.86 505.35,143.83 505.8,143.83 505.8,143.81 506.25,143.81 506.25,143.88 506.7,143.88 506.7,143.76 507.15,143.76 507.15,143.74 507.6,143.74 507.6,143.89 508.05,143.89 508.05,143.81 508.5,143.81 508.5,143.73 508.95,143.73 508.95,143.83 509.4,143.83 509.4,143.93 509.85,143.93 509.85,143.75 510.3,143.75 510.3,143.81 510.75,143.81 510.75,143.9 511.2,143.9 511.2,143.93 511.65,143.93 511.65,143.92 512.1,143.92 512.1,143.83 512.55,143.83 512.55,143.85 513.0,143.85 513.0,143.85 513.45,143.85 513,143.8792 513,144.3" fill="#000" stroke="#000" stroke-width="0.6" stroke-linejoin="round"/>
<line x1="434.3" y1="72.6" x2="503.5" y2="72.6" stroke="#444" stroke-width="1.2"/>
<line x1="434.3" y1="64.5" x2="434.3" y2="79.3" stroke="#000" stroke-width="1.2"/>
<line x1="503.5" y1="64.5" x2="503.5" y2="79.3" stroke="#000" stroke-width="1.2"/>
<text x="454.52" y="69.2" font-size="17.9" class="ser" fill="#000" textLength="25.02" lengthAdjust="spacingAndGlyphs" >3%</text>
<text x="421.20" y="39.2" font-size="17.6" class="ser" fill="#000" textLength="78.93" lengthAdjust="spacingAndGlyphs" >vif shRNA</text>
<text x="396.42" y="158.2" font-size="10.8" class="san" fill="#000" textLength="9.92" lengthAdjust="spacingAndGlyphs" stroke="#000" stroke-width="0.35">10</text>
<text x="406.20" y="154.0" font-size="8.8" class="san" fill="#000" stroke="#000" stroke-width="0.3">0</text>
<text x="423.40" y="158.2" font-size="10.8" class="san" fill="#000" textLength="9.92" lengthAdjust="spacingAndGlyphs" stroke="#000" stroke-width="0.35">10</text>
<text x="433.17" y="154.0" font-size="8.8" class="san" fill="#000" stroke="#000" stroke-width="0.3">1</text>
<text x="450.37" y="158.2" font-size="10.8" class="san" fill="#000" textLength="9.92" lengthAdjust="spacingAndGlyphs" stroke="#000" stroke-width="0.35">10</text>
<text x="460.15" y="154.0" font-size="8.8" class="san" fill="#000" stroke="#000" stroke-width="0.3">2</text>
<text x="477.35" y="158.2" font-size="10.8" class="san" fill="#000" textLength="9.92" lengthAdjust="spacingAndGlyphs" stroke="#000" stroke-width="0.35">10</text>
<text x="487.12" y="154.0" font-size="8.8" class="san" fill="#000" stroke="#000" stroke-width="0.3">3</text>
<text x="504.32" y="158.2" font-size="10.8" class="san" fill="#000" textLength="9.92" lengthAdjust="spacingAndGlyphs" stroke="#000" stroke-width="0.35">10</text>
<text x="514.10" y="154.0" font-size="8.8" class="san" fill="#000" stroke="#000" stroke-width="0.3">4</text>
<path d="M285.9,87 L286.3,76 L286.9,70.8 L287.8,69.4 L290.3,69.4 L291.3,72 L292.5,80.8 L294.2,92.3" fill="#fff" stroke="#000" stroke-width="2.1" stroke-linejoin="round"/>
<path d="M286.5,85.8 L287.5,85 L289,84.5 L290.5,85.5 L291.5,86.5 L292.8,89 L292.8,93 L286.2,93 Z" fill="#000"/>
<path d="M158.9,72 L158.8,68.5 L159.3,67 L160.1,67 L160.4,68.5 L160.4,72 Z" fill="#fff"/>
<path d="M419.4,57.5 L420.3,58 L421.5,62 L422.6,76 L423.6,86 L422.3,86 L421.4,74 L420.4,64 Z" fill="#888"/>
<text transform="translate(8.0,55.2) rotate(-90)" font-size="9" class="san" fill="#000" textLength="17.6" lengthAdjust="spacingAndGlyphs" stroke="#000" stroke-width="0.2">100</text>
<text transform="translate(8.0,146.6) rotate(-90)" font-size="9" class="san" fill="#000" textLength="5.8" lengthAdjust="spacingAndGlyphs" stroke="#000" stroke-width="0.2">0</text>
<line x1="16" y1="176" x2="226" y2="176" stroke="#222" stroke-width="1.3"/>
<line x1="298.7" y1="176" x2="512" y2="176" stroke="#222" stroke-width="1.3"/>
<text x="233.55" y="182.4" font-size="16.8" class="ser" fill="#000" textLength="58.80" lengthAdjust="spacingAndGlyphs" >p24-RD1</text>
<text x="46.70" y="226.8" font-size="29.4" class="san" font-weight="bold" fill="#000" textLength="19.74" lengthAdjust="spacingAndGlyphs" stroke="#000" stroke-width="0.4">B</text>
<line x1="92.5" y1="246.5" x2="92.5" y2="481.5" stroke="#888" stroke-width="1"/>
<line x1="92.0" y1="481.5" x2="473.1" y2="481.5" stroke="#888" stroke-width="1"/>
<line x1="89.0" y1="481.5" x2="92.0" y2="481.5" stroke="#888" stroke-width="1"/>
<text x="84.3" y="485.7" font-size="12.6" class="ser" text-anchor="end" fill="#000" >0</text>
<line x1="89.0" y1="434.5" x2="92.0" y2="434.5" stroke="#888" stroke-width="1"/>
<text x="84.3" y="438.7" font-size="12.6" class="ser" text-anchor="end" fill="#000" >20</text>
<line x1="89.0" y1="387.5" x2="92.0" y2="387.5" stroke="#888" stroke-width="1"/>
<text x="84.3" y="391.7" font-size="12.6" class="ser" text-anchor="end" fill="#000" >40</text>
<line x1="89.0" y1="340.5" x2="92.0" y2="340.5" stroke="#888" stroke-width="1"/>
<text x="84.3" y="344.7" font-size="12.6" class="ser" text-anchor="end" fill="#000" >60</text>
<line x1="89.0" y1="293.5" x2="92.0" y2="293.5" stroke="#888" stroke-width="1"/>
<text x="84.3" y="297.7" font-size="12.6" class="ser" text-anchor="end" fill="#000" >80</text>
<line x1="89.0" y1="246.5" x2="92.0" y2="246.5" stroke="#888" stroke-width="1"/>
<text x="84.3" y="250.7" font-size="12.6" class="ser" text-anchor="end" fill="#000" >100</text>
<line x1="92.4" y1="481.5" x2="92.4" y2="485.0" stroke="#888" stroke-width="1"/>
<line x1="134.7" y1="481.5" x2="134.7" y2="485.0" stroke="#888" stroke-width="1"/>
<line x1="177.0" y1="481.5" x2="177.0" y2="485.0" stroke="#888" stroke-width="1"/>
<line x1="219.3" y1="481.5" x2="219.3" y2="485.0" stroke="#888" stroke-width="1"/>
<line x1="261.6" y1="481.5" x2="261.6" y2="485.0" stroke="#888" stroke-width="1"/>
<line x1="303.9" y1="481.5" x2="303.9" y2="485.0" stroke="#888" stroke-width="1"/>
<line x1="346.2" y1="481.5" x2="346.2" y2="485.0" stroke="#888" stroke-width="1"/>
<line x1="388.5" y1="481.5" x2="388.5" y2="485.0" stroke="#888" stroke-width="1"/>
<line x1="430.79999999999995" y1="481.5" x2="430.79999999999995" y2="485.0" stroke="#888" stroke-width="1"/>
<line x1="473.1" y1="481.5" x2="473.1" y2="485.0" stroke="#888" stroke-width="1"/>
<rect x="101.80" y="465.55" width="11.9" height="15.95" fill="#c0c0c0" stroke="#000" stroke-width="1.1"/>
<line x1="107.60" y1="465.05" x2="107.60" y2="463.17" stroke="#111" stroke-width="1.2"/>
<line x1="104.30" y1="463.17" x2="110.90" y2="463.17" stroke="#111" stroke-width="1.2"/>
<clipPath id="cp0"><rect x="114.15" y="254.20" width="11.25" height="227.30"/></clipPath>
<rect x="114.15" y="254.20" width="11.25" height="227.30" fill="#fff"/>
<g clip-path="url(#cp0)" stroke="#000" stroke-width="2.9">
<line x1="111.65" y1="245.91" x2="128.90" y2="230.90"/>
<line x1="111.65" y1="256.06" x2="128.90" y2="241.05"/>
<line x1="111.65" y1="266.21" x2="128.90" y2="251.20"/>
<line x1="111.65" y1="276.36" x2="128.90" y2="261.35"/>
<line x1="111.65" y1="286.51" x2="128.90" y2="271.50"/>
<line x1="111.65" y1="296.66" x2="128.90" y2="281.65"/>
<line x1="111.65" y1="306.81" x2="128.90" y2="291.80"/>
<line x1="111.65" y1="316.96" x2="128.90" y2="301.95"/>
<line x1="111.65" y1="327.11" x2="128.90" y2="312.10"/>
<line x1="111.65" y1="337.26" x2="128.90" y2="322.25"/>
<line x1="111.65" y1="347.41" x2="128.90" y2="332.40"/>
<line x1="111.65" y1="357.56" x2="128.90" y2="342.55"/>
<line x1="111.65" y1="367.71" x2="128.90" y2="352.70"/>
<line x1="111.65" y1="377.86" x2="128.90" y2="362.85"/>
<line x1="111.65" y1="388.01" x2="128.90" y2="373.00"/>
<line x1="111.65" y1="398.16" x2="128.90" y2="383.15"/>
<line x1="111.65" y1="408.31" x2="128.90" y2="393.30"/>
<line x1="111.65" y1="418.46" x2="128.90" y2="403.45"/>
<line x1="111.65" y1="428.61" x2="128.90" y2="413.60"/>
<line x1="111.65" y1="438.76" x2="128.90" y2="423.75"/>
<line x1="111.65" y1="448.91" x2="128.90" y2="433.90"/>
<line x1="111.65" y1="459.06" x2="128.90" y2="444.05"/>
<line x1="111.65" y1="469.21" x2="128.90" y2="454.20"/>
<line x1="111.65" y1="479.36" x2="128.90" y2="464.35"/>
<line x1="111.65" y1="489.51" x2="128.90" y2="474.50"/>
<line x1="111.65" y1="499.66" x2="128.90" y2="484.65"/>
<line x1="111.65" y1="509.81" x2="128.90" y2="494.80"/>
</g>
<rect x="114.15" y="254.20" width="11.25" height="227.30" fill="none" stroke="#000" stroke-width="1.3"/>
<line x1="119.80" y1="253.55" x2="119.80" y2="248.62" stroke="#111" stroke-width="1.2"/>
<line x1="116.50" y1="248.62" x2="123.10" y2="248.62" stroke="#111" stroke-width="1.2"/>
<text transform="translate(124.70,491.8) rotate(-45)" font-size="12.4" class="ser" text-anchor="end" fill="#000">UG29 (A)</text>
<rect x="144.00" y="275.20" width="11.9" height="206.30" fill="#c0c0c0" stroke="#000" stroke-width="1.1"/>
<line x1="149.80" y1="274.70" x2="149.80" y2="254.49" stroke="#111" stroke-width="1.2"/>
<line x1="146.50" y1="254.49" x2="153.10" y2="254.49" stroke="#111" stroke-width="1.2"/>
<clipPath id="cp1"><rect x="156.35" y="294.15" width="11.25" height="187.35"/></clipPath>
<rect x="156.35" y="294.15" width="11.25" height="187.35" fill="#fff"/>
<g clip-path="url(#cp1)" stroke="#000" stroke-width="2.9">
<line x1="153.85" y1="286.51" x2="171.10" y2="271.50"/>
<line x1="153.85" y1="296.66" x2="171.10" y2="281.65"/>
<line x1="153.85" y1="306.81" x2="171.10" y2="291.80"/>
<line x1="153.85" y1="316.96" x2="171.10" y2="301.95"/>
<line x1="153.85" y1="327.11" x2="171.10" y2="312.10"/>
<line x1="153.85" y1="337.26" x2="171.10" y2="322.25"/>
<line x1="153.85" y1="347.41" x2="171.10" y2="332.40"/>
<line x1="153.85" y1="357.56" x2="171.10" y2="342.55"/>
<line x1="153.85" y1="367.71" x2="171.10" y2="352.70"/>
<line x1="153.85" y1="377.86" x2="171.10" y2="362.85"/>
<line x1="153.85" y1="388.01" x2="171.10" y2="373.00"/>
<line x1="153.85" y1="398.16" x2="171.10" y2="383.15"/>
<line x1="153.85" y1="408.31" x2="171.10" y2="393.30"/>
<line x1="153.85" y1="418.46" x2="171.10" y2="403.45"/>
<line x1="153.85" y1="428.61" x2="171.10" y2="413.60"/>
<line x1="153.85" y1="438.76" x2="171.10" y2="423.75"/>
<line x1="153.85" y1="448.91" x2="171.10" y2="433.90"/>
<line x1="153.85" y1="459.06" x2="171.10" y2="444.05"/>
<line x1="153.85" y1="469.21" x2="171.10" y2="454.20"/>
<line x1="153.85" y1="479.36" x2="171.10" y2="464.35"/>
<line x1="153.85" y1="489.51" x2="171.10" y2="474.50"/>
<line x1="153.85" y1="499.66" x2="171.10" y2="484.65"/>
<line x1="153.85" y1="509.81" x2="171.10" y2="494.80"/>
</g>
<rect x="156.35" y="294.15" width="11.25" height="187.35" fill="none" stroke="#000" stroke-width="1.3"/>
<line x1="162.00" y1="293.50" x2="162.00" y2="288.80" stroke="#111" stroke-width="1.2"/>
<line x1="158.70" y1="288.80" x2="165.30" y2="288.80" stroke="#111" stroke-width="1.2"/>
<text transform="translate(167.10,491.8) rotate(-45)" font-size="12.4" class="ser" text-anchor="end" fill="#000">BaL (B)</text>
<rect x="186.20" y="283.43" width="11.9" height="198.07" fill="#c0c0c0" stroke="#000" stroke-width="1.1"/>
<line x1="192.00" y1="282.93" x2="192.00" y2="263.19" stroke="#111" stroke-width="1.2"/>
<line x1="188.70" y1="263.19" x2="195.30" y2="263.19" stroke="#111" stroke-width="1.2"/>
<clipPath id="cp2"><rect x="198.55" y="294.15" width="11.25" height="187.35"/></clipPath>
<rect x="198.55" y="294.15" width="11.25" height="187.35" fill="#fff"/>
<g clip-path="url(#cp2)" stroke="#000" stroke-width="2.9">
<line x1="196.05" y1="286.51" x2="213.30" y2="271.50"/>
<line x1="196.05" y1="296.66" x2="213.30" y2="281.65"/>
<line x1="196.05" y1="306.81" x2="213.30" y2="291.80"/>
<line x1="196.05" y1="316.96" x2="213.30" y2="301.95"/>
<line x1="196.05" y1="327.11" x2="213.30" y2="312.10"/>
<line x1="196.05" y1="337.26" x2="213.30" y2="322.25"/>
<line x1="196.05" y1="347.41" x2="213.30" y2="332.40"/>
<line x1="196.05" y1="357.56" x2="213.30" y2="342.55"/>
<line x1="196.05" y1="367.71" x2="213.30" y2="352.70"/>
<line x1="196.05" y1="377.86" x2="213.30" y2="362.85"/>
<line x1="196.05" y1="388.01" x2="213.30" y2="373.00"/>
<line x1="196.05" y1="398.16" x2="213.30" y2="383.15"/>
<line x1="196.05" y1="408.31" x2="213.30" y2="393.30"/>
<line x1="196.05" y1="418.46" x2="213.30" y2="403.45"/>
<line x1="196.05" y1="428.61" x2="213.30" y2="413.60"/>
<line x1="196.05" y1="438.76" x2="213.30" y2="423.75"/>
<line x1="196.05" y1="448.91" x2="213.30" y2="433.90"/>
<line x1="196.05" y1="459.06" x2="213.30" y2="444.05"/>
<line x1="196.05" y1="469.21" x2="213.30" y2="454.20"/>
<line x1="196.05" y1="479.36" x2="213.30" y2="464.35"/>
<line x1="196.05" y1="489.51" x2="213.30" y2="474.50"/>
<line x1="196.05" y1="499.66" x2="213.30" y2="484.65"/>
<line x1="196.05" y1="509.81" x2="213.30" y2="494.80"/>
</g>
<rect x="198.55" y="294.15" width="11.25" height="187.35" fill="none" stroke="#000" stroke-width="1.3"/>
<line x1="204.20" y1="293.50" x2="204.20" y2="288.80" stroke="#111" stroke-width="1.2"/>
<line x1="200.90" y1="288.80" x2="207.50" y2="288.80" stroke="#111" stroke-width="1.2"/>
<text transform="translate(209.50,491.8) rotate(-45)" font-size="12.4" class="ser" text-anchor="end" fill="#000">B' (RN42)</text>
<rect x="228.40" y="275.20" width="11.9" height="206.30" fill="#c0c0c0" stroke="#000" stroke-width="1.1"/>
<line x1="234.20" y1="274.70" x2="234.20" y2="254.49" stroke="#111" stroke-width="1.2"/>
<line x1="230.90" y1="254.49" x2="237.50" y2="254.49" stroke="#111" stroke-width="1.2"/>
<clipPath id="cp3"><rect x="240.75" y="301.20" width="11.25" height="180.30"/></clipPath>
<rect x="240.75" y="301.20" width="11.25" height="180.30" fill="#fff"/>
<g clip-path="url(#cp3)" stroke="#000" stroke-width="2.9">
<line x1="238.25" y1="286.51" x2="255.50" y2="271.50"/>
<line x1="238.25" y1="296.66" x2="255.50" y2="281.65"/>
<line x1="238.25" y1="306.81" x2="255.50" y2="291.80"/>
<line x1="238.25" y1="316.96" x2="255.50" y2="301.95"/>
<line x1="238.25" y1="327.11" x2="255.50" y2="312.10"/>
<line x1="238.25" y1="337.26" x2="255.50" y2="322.25"/>
<line x1="238.25" y1="347.41" x2="255.50" y2="332.40"/>
<line x1="238.25" y1="357.56" x2="255.50" y2="342.55"/>
<line x1="238.25" y1="367.71" x2="255.50" y2="352.70"/>
<line x1="238.25" y1="377.86" x2="255.50" y2="362.85"/>
<line x1="238.25" y1="388.01" x2="255.50" y2="373.00"/>
<line x1="238.25" y1="398.16" x2="255.50" y2="383.15"/>
<line x1="238.25" y1="408.31" x2="255.50" y2="393.30"/>
<line x1="238.25" y1="418.46" x2="255.50" y2="403.45"/>
<line x1="238.25" y1="428.61" x2="255.50" y2="413.60"/>
<line x1="238.25" y1="438.76" x2="255.50" y2="423.75"/>
<line x1="238.25" y1="448.91" x2="255.50" y2="433.90"/>
<line x1="238.25" y1="459.06" x2="255.50" y2="444.05"/>
<line x1="238.25" y1="469.21" x2="255.50" y2="454.20"/>
<line x1="238.25" y1="479.36" x2="255.50" y2="464.35"/>
<line x1="238.25" y1="489.51" x2="255.50" y2="474.50"/>
<line x1="238.25" y1="499.66" x2="255.50" y2="484.65"/>
<line x1="238.25" y1="509.81" x2="255.50" y2="494.80"/>
</g>
<rect x="240.75" y="301.20" width="11.25" height="180.30" fill="none" stroke="#000" stroke-width="1.3"/>
<line x1="246.40" y1="300.55" x2="246.40" y2="295.85" stroke="#111" stroke-width="1.2"/>
<line x1="243.10" y1="295.85" x2="249.70" y2="295.85" stroke="#111" stroke-width="1.2"/>
<text transform="translate(251.90,491.8) rotate(-45)" font-size="12.4" class="ser" text-anchor="end" fill="#000">C/B' (CN54)</text>
<rect x="270.60" y="458.50" width="11.9" height="23.00" fill="#c0c0c0" stroke="#000" stroke-width="1.1"/>
<line x1="276.40" y1="458.00" x2="276.40" y2="454.94" stroke="#111" stroke-width="1.2"/>
<line x1="273.10" y1="454.94" x2="279.70" y2="454.94" stroke="#111" stroke-width="1.2"/>
<clipPath id="cp4"><rect x="282.95" y="298.85" width="11.25" height="182.65"/></clipPath>
<rect x="282.95" y="298.85" width="11.25" height="182.65" fill="#fff"/>
<g clip-path="url(#cp4)" stroke="#000" stroke-width="2.9">
<line x1="280.45" y1="286.51" x2="297.70" y2="271.50"/>
<line x1="280.45" y1="296.66" x2="297.70" y2="281.65"/>
<line x1="280.45" y1="306.81" x2="297.70" y2="291.80"/>
<line x1="280.45" y1="316.96" x2="297.70" y2="301.95"/>
<line x1="280.45" y1="327.11" x2="297.70" y2="312.10"/>
<line x1="280.45" y1="337.26" x2="297.70" y2="322.25"/>
<line x1="280.45" y1="347.41" x2="297.70" y2="332.40"/>
<line x1="280.45" y1="357.56" x2="297.70" y2="342.55"/>
<line x1="280.45" y1="367.71" x2="297.70" y2="352.70"/>
<line x1="280.45" y1="377.86" x2="297.70" y2="362.85"/>
<line x1="280.45" y1="388.01" x2="297.70" y2="373.00"/>
<line x1="280.45" y1="398.16" x2="297.70" y2="383.15"/>
<line x1="280.45" y1="408.31" x2="297.70" y2="393.30"/>
<line x1="280.45" y1="418.46" x2="297.70" y2="403.45"/>
<line x1="280.45" y1="428.61" x2="297.70" y2="413.60"/>
<line x1="280.45" y1="438.76" x2="297.70" y2="423.75"/>
<line x1="280.45" y1="448.91" x2="297.70" y2="433.90"/>
<line x1="280.45" y1="459.06" x2="297.70" y2="444.05"/>
<line x1="280.45" y1="469.21" x2="297.70" y2="454.20"/>
<line x1="280.45" y1="479.36" x2="297.70" y2="464.35"/>
<line x1="280.45" y1="489.51" x2="297.70" y2="474.50"/>
<line x1="280.45" y1="499.66" x2="297.70" y2="484.65"/>
<line x1="280.45" y1="509.81" x2="297.70" y2="494.80"/>
</g>
<rect x="282.95" y="298.85" width="11.25" height="182.65" fill="none" stroke="#000" stroke-width="1.3"/>
<line x1="288.60" y1="298.20" x2="288.60" y2="292.56" stroke="#111" stroke-width="1.2"/>
<line x1="285.30" y1="292.56" x2="291.90" y2="292.56" stroke="#111" stroke-width="1.2"/>
<text transform="translate(294.30,491.8) rotate(-45)" font-size="12.4" class="ser" text-anchor="end" fill="#000">IN17 (C)</text>
<rect x="312.80" y="458.50" width="11.9" height="23.00" fill="#c0c0c0" stroke="#000" stroke-width="1.1"/>
<line x1="318.60" y1="458.00" x2="318.60" y2="454.94" stroke="#111" stroke-width="1.2"/>
<line x1="315.30" y1="454.94" x2="321.90" y2="454.94" stroke="#111" stroke-width="1.2"/>
<clipPath id="cp5"><rect x="325.15" y="282.40" width="11.25" height="199.10"/></clipPath>
<rect x="325.15" y="282.40" width="11.25" height="199.10" fill="#fff"/>
<g clip-path="url(#cp5)" stroke="#000" stroke-width="2.9">
<line x1="322.65" y1="266.21" x2="339.90" y2="251.20"/>
<line x1="322.65" y1="276.36" x2="339.90" y2="261.35"/>
<line x1="322.65" y1="286.51" x2="339.90" y2="271.50"/>
<line x1="322.65" y1="296.66" x2="339.90" y2="281.65"/>
<line x1="322.65" y1="306.81" x2="339.90" y2="291.80"/>
<line x1="322.65" y1="316.96" x2="339.90" y2="301.95"/>
<line x1="322.65" y1="327.11" x2="339.90" y2="312.10"/>
<line x1="322.65" y1="337.26" x2="339.90" y2="322.25"/>
<line x1="322.65" y1="347.41" x2="339.90" y2="332.40"/>
<line x1="322.65" y1="357.56" x2="339.90" y2="342.55"/>
<line x1="322.65" y1="367.71" x2="339.90" y2="352.70"/>
<line x1="322.65" y1="377.86" x2="339.90" y2="362.85"/>
<line x1="322.65" y1="388.01" x2="339.90" y2="373.00"/>
<line x1="322.65" y1="398.16" x2="339.90" y2="383.15"/>
<line x1="322.65" y1="408.31" x2="339.90" y2="393.30"/>
<line x1="322.65" y1="418.46" x2="339.90" y2="403.45"/>
<line x1="322.65" y1="428.61" x2="339.90" y2="413.60"/>
<line x1="322.65" y1="438.76" x2="339.90" y2="423.75"/>
<line x1="322.65" y1="448.91" x2="339.90" y2="433.90"/>
<line x1="322.65" y1="459.06" x2="339.90" y2="444.05"/>
<line x1="322.65" y1="469.21" x2="339.90" y2="454.20"/>
<line x1="322.65" y1="479.36" x2="339.90" y2="464.35"/>
<line x1="322.65" y1="489.51" x2="339.90" y2="474.50"/>
<line x1="322.65" y1="499.66" x2="339.90" y2="484.65"/>
<line x1="322.65" y1="509.81" x2="339.90" y2="494.80"/>
</g>
<rect x="325.15" y="282.40" width="11.25" height="199.10" fill="none" stroke="#000" stroke-width="1.3"/>
<line x1="330.80" y1="281.75" x2="330.80" y2="276.11" stroke="#111" stroke-width="1.2"/>
<line x1="327.50" y1="276.11" x2="334.10" y2="276.11" stroke="#111" stroke-width="1.2"/>
<text transform="translate(336.70,491.8) rotate(-45)" font-size="12.4" class="ser" text-anchor="end" fill="#000">ZA012 (C)</text>
<rect x="355.00" y="425.60" width="11.9" height="55.90" fill="#c0c0c0" stroke="#000" stroke-width="1.1"/>
<line x1="360.80" y1="425.10" x2="360.80" y2="418.52" stroke="#111" stroke-width="1.2"/>
<line x1="357.50" y1="418.52" x2="364.10" y2="418.52" stroke="#111" stroke-width="1.2"/>
<clipPath id="cp6"><rect x="367.35" y="280.05" width="11.25" height="201.45"/></clipPath>
<rect x="367.35" y="280.05" width="11.25" height="201.45" fill="#fff"/>
<g clip-path="url(#cp6)" stroke="#000" stroke-width="2.9">
<line x1="364.85" y1="266.21" x2="382.10" y2="251.20"/>
<line x1="364.85" y1="276.36" x2="382.10" y2="261.35"/>
<line x1="364.85" y1="286.51" x2="382.10" y2="271.50"/>
<line x1="364.85" y1="296.66" x2="382.10" y2="281.65"/>
<line x1="364.85" y1="306.81" x2="382.10" y2="291.80"/>
<line x1="364.85" y1="316.96" x2="382.10" y2="301.95"/>
<line x1="364.85" y1="327.11" x2="382.10" y2="312.10"/>
<line x1="364.85" y1="337.26" x2="382.10" y2="322.25"/>
<line x1="364.85" y1="347.41" x2="382.10" y2="332.40"/>
<line x1="364.85" y1="357.56" x2="382.10" y2="342.55"/>
<line x1="364.85" y1="367.71" x2="382.10" y2="352.70"/>
<line x1="364.85" y1="377.86" x2="382.10" y2="362.85"/>
<line x1="364.85" y1="388.01" x2="382.10" y2="373.00"/>
<line x1="364.85" y1="398.16" x2="382.10" y2="383.15"/>
<line x1="364.85" y1="408.31" x2="382.10" y2="393.30"/>
<line x1="364.85" y1="418.46" x2="382.10" y2="403.45"/>
<line x1="364.85" y1="428.61" x2="382.10" y2="413.60"/>
<line x1="364.85" y1="438.76" x2="382.10" y2="423.75"/>
<line x1="364.85" y1="448.91" x2="382.10" y2="433.90"/>
<line x1="364.85" y1="459.06" x2="382.10" y2="444.05"/>
<line x1="364.85" y1="469.21" x2="382.10" y2="454.20"/>
<line x1="364.85" y1="479.36" x2="382.10" y2="464.35"/>
<line x1="364.85" y1="489.51" x2="382.10" y2="474.50"/>
<line x1="364.85" y1="499.66" x2="382.10" y2="484.65"/>
<line x1="364.85" y1="509.81" x2="382.10" y2="494.80"/>
</g>
<rect x="367.35" y="280.05" width="11.25" height="201.45" fill="none" stroke="#000" stroke-width="1.3"/>
<line x1="373.00" y1="279.40" x2="373.00" y2="274.23" stroke="#111" stroke-width="1.2"/>
<line x1="369.70" y1="274.23" x2="376.30" y2="274.23" stroke="#111" stroke-width="1.2"/>
<text transform="translate(379.10,491.8) rotate(-45)" font-size="12.4" class="ser" text-anchor="end" fill="#000">UG24 (D)</text>
<line x1="396.90" y1="480.6" x2="408.90" y2="480.6" stroke="#000" stroke-width="2"/>
<clipPath id="cp7"><rect x="409.55" y="301.20" width="11.25" height="180.30"/></clipPath>
<rect x="409.55" y="301.20" width="11.25" height="180.30" fill="#fff"/>
<g clip-path="url(#cp7)" stroke="#000" stroke-width="2.9">
<line x1="407.05" y1="286.51" x2="424.30" y2="271.50"/>
<line x1="407.05" y1="296.66" x2="424.30" y2="281.65"/>
<line x1="407.05" y1="306.81" x2="424.30" y2="291.80"/>
<line x1="407.05" y1="316.96" x2="424.30" y2="301.95"/>
<line x1="407.05" y1="327.11" x2="424.30" y2="312.10"/>
<line x1="407.05" y1="337.26" x2="424.30" y2="322.25"/>
<line x1="407.05" y1="347.41" x2="424.30" y2="332.40"/>
<line x1="407.05" y1="357.56" x2="424.30" y2="342.55"/>
<line x1="407.05" y1="367.71" x2="424.30" y2="352.70"/>
<line x1="407.05" y1="377.86" x2="424.30" y2="362.85"/>
<line x1="407.05" y1="388.01" x2="424.30" y2="373.00"/>
<line x1="407.05" y1="398.16" x2="424.30" y2="383.15"/>
<line x1="407.05" y1="408.31" x2="424.30" y2="393.30"/>
<line x1="407.05" y1="418.46" x2="424.30" y2="403.45"/>
<line x1="407.05" y1="428.61" x2="424.30" y2="413.60"/>
<line x1="407.05" y1="438.76" x2="424.30" y2="423.75"/>
<line x1="407.05" y1="448.91" x2="424.30" y2="433.90"/>
<line x1="407.05" y1="459.06" x2="424.30" y2="444.05"/>
<line x1="407.05" y1="469.21" x2="424.30" y2="454.20"/>
<line x1="407.05" y1="479.36" x2="424.30" y2="464.35"/>
<line x1="407.05" y1="489.51" x2="424.30" y2="474.50"/>
<line x1="407.05" y1="499.66" x2="424.30" y2="484.65"/>
<line x1="407.05" y1="509.81" x2="424.30" y2="494.80"/>
</g>
<rect x="409.55" y="301.20" width="11.25" height="180.30" fill="none" stroke="#000" stroke-width="1.3"/>
<line x1="415.20" y1="300.55" x2="415.20" y2="295.85" stroke="#111" stroke-width="1.2"/>
<line x1="411.90" y1="295.85" x2="418.50" y2="295.85" stroke="#111" stroke-width="1.2"/>
<text transform="translate(421.50,491.8) rotate(-45)" font-size="12.4" class="ser" text-anchor="end" fill="#000">TH64 (E)</text>
<rect x="439.40" y="364.50" width="11.9" height="117.00" fill="#c0c0c0" stroke="#000" stroke-width="1.1"/>
<line x1="445.20" y1="364.00" x2="445.20" y2="351.54" stroke="#111" stroke-width="1.2"/>
<line x1="441.90" y1="351.54" x2="448.50" y2="351.54" stroke="#111" stroke-width="1.2"/>
<clipPath id="cp8"><rect x="451.75" y="280.05" width="11.25" height="201.45"/></clipPath>
<rect x="451.75" y="280.05" width="11.25" height="201.45" fill="#fff"/>
<g clip-path="url(#cp8)" stroke="#000" stroke-width="2.9">
<line x1="449.25" y1="266.21" x2="466.50" y2="251.20"/>
<line x1="449.25" y1="276.36" x2="466.50" y2="261.35"/>
<line x1="449.25" y1="286.51" x2="466.50" y2="271.50"/>
<line x1="449.25" y1="296.66" x2="466.50" y2="281.65"/>
<line x1="449.25" y1="306.81" x2="466.50" y2="291.80"/>
<line x1="449.25" y1="316.96" x2="466.50" y2="301.95"/>
<line x1="449.25" y1="327.11" x2="466.50" y2="312.10"/>
<line x1="449.25" y1="337.26" x2="466.50" y2="322.25"/>
<line x1="449.25" y1="347.41" x2="466.50" y2="332.40"/>
<line x1="449.25" y1="357.56" x2="466.50" y2="342.55"/>
<line x1="449.25" y1="367.71" x2="466.50" y2="352.70"/>
<line x1="449.25" y1="377.86" x2="466.50" y2="362.85"/>
<line x1="449.25" y1="388.01" x2="466.50" y2="373.00"/>
<line x1="449.25" y1="398.16" x2="466.50" y2="383.15"/>
<line x1="449.25" y1="408.31" x2="466.50" y2="393.30"/>
<line x1="449.25" y1="418.46" x2="466.50" y2="403.45"/>
<line x1="449.25" y1="428.61" x2="466.50" y2="413.60"/>
<line x1="449.25" y1="438.76" x2="466.50" y2="423.75"/>
<line x1="449.25" y1="448.91" x2="466.50" y2="433.90"/>
<line x1="449.25" y1="459.06" x2="466.50" y2="444.05"/>
<line x1="449.25" y1="469.21" x2="466.50" y2="454.20"/>
<line x1="449.25" y1="479.36" x2="466.50" y2="464.35"/>
<line x1="449.25" y1="489.51" x2="466.50" y2="474.50"/>
<line x1="449.25" y1="499.66" x2="466.50" y2="484.65"/>
<line x1="449.25" y1="509.81" x2="466.50" y2="494.80"/>
</g>
<rect x="451.75" y="280.05" width="11.25" height="201.45" fill="none" stroke="#000" stroke-width="1.3"/>
<line x1="457.40" y1="279.40" x2="457.40" y2="274.23" stroke="#111" stroke-width="1.2"/>
<line x1="454.10" y1="274.23" x2="460.70" y2="274.23" stroke="#111" stroke-width="1.2"/>
<text transform="translate(463.90,491.8) rotate(-45)" font-size="12.4" class="ser" text-anchor="end" fill="#000">TH65 (E)</text>
<rect x="371.6" y="230.6" width="11.3" height="11" fill="#c0c0c0" stroke="#111" stroke-width="1.2"/>
<rect x="371.6" y="252.7" width="9.6" height="9.6" fill="#fff" stroke="#000" stroke-width="1.3"/>
<path d="M372,262 L372,257 L377.5,252.9 L381,252.9 L381,254.5 L374.8,262 Z" fill="#000"/>
<text x="388.95" y="239.6" font-size="16.2" class="ser" fill="#000" textLength="72.16" lengthAdjust="spacingAndGlyphs" >gag shRNA</text>
<text x="389.60" y="262.0" font-size="16.2" class="ser" fill="#000" textLength="66.31" lengthAdjust="spacingAndGlyphs" >vif shRNA</text>
<text x="238.33" y="551.3" font-size="15.4" class="ser" fill="#000" textLength="45.30" lengthAdjust="spacingAndGlyphs" >Viruses</text>
<text transform="translate(57.7,459.03) rotate(-90)" font-size="16.0" class="ser" fill="#000" textLength="190.07" lengthAdjust="spacingAndGlyphs">% reduction in p24 expression</text>
</svg>
</body></html>
